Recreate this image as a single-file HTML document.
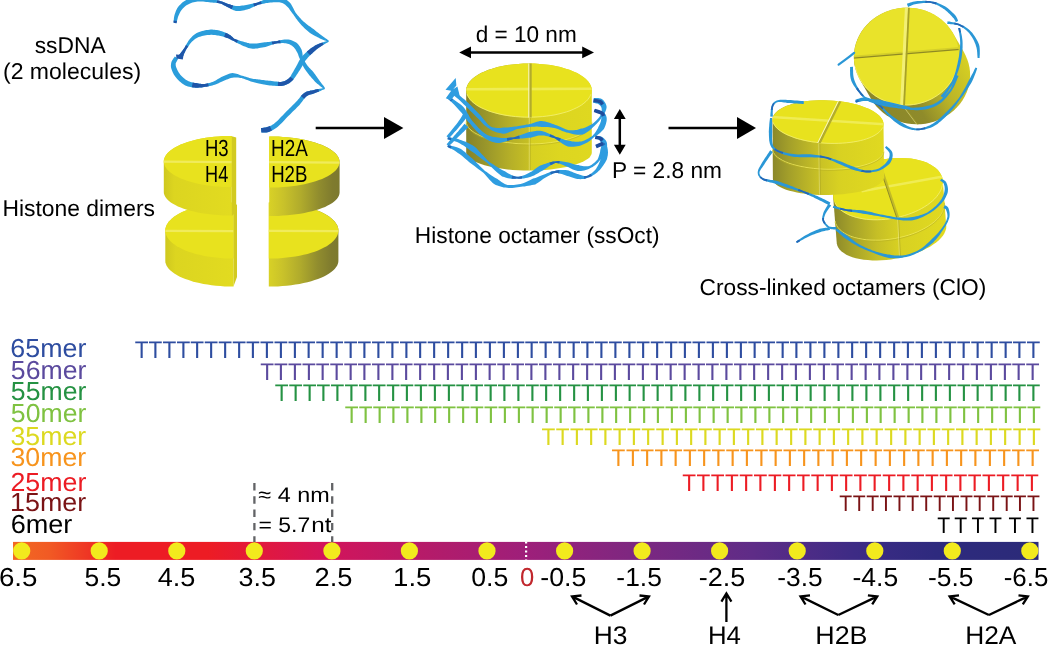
<!DOCTYPE html>
<html><head><meta charset="utf-8"><title>Histone octamer ssDNA figure</title>
<style>
html,body{margin:0;padding:0;background:#fff;}
body{width:1050px;height:650px;overflow:hidden;}
svg{display:block;font-family:'Liberation Sans', Arial, Helvetica, sans-serif;text-rendering:geometricPrecision;}
</style></head><body>
<svg width="1050" height="650" viewBox="0 0 1050 650">
<defs>
<linearGradient id="g1" gradientUnits="userSpaceOnUse" x1="165.3" y1="0.0" x2="233.6" y2="0.0"><stop offset="0" stop-color="#cfc81f"/><stop offset="0.15" stop-color="#dcd520"/><stop offset="1" stop-color="#e2db20"/></linearGradient>
<linearGradient id="g2" gradientUnits="userSpaceOnUse" x1="268.8" y1="0.0" x2="338.4" y2="0.0"><stop offset="0" stop-color="#d8d126"/><stop offset="0.2" stop-color="#c9c22a"/><stop offset="0.45" stop-color="#b0ab2c"/><stop offset="0.7" stop-color="#918d2e"/><stop offset="0.9" stop-color="#7f7b2e"/><stop offset="1" stop-color="#7c792e"/></linearGradient>
<linearGradient id="g3" gradientUnits="userSpaceOnUse" x1="163.8" y1="0.0" x2="231.8" y2="0.0"><stop offset="0" stop-color="#cfc81f"/><stop offset="0.15" stop-color="#dcd520"/><stop offset="1" stop-color="#e2db20"/></linearGradient>
<linearGradient id="g4" gradientUnits="userSpaceOnUse" x1="269.2" y1="0.0" x2="339.6" y2="0.0"><stop offset="0" stop-color="#d8d126"/><stop offset="0.2" stop-color="#c9c22a"/><stop offset="0.45" stop-color="#b0ab2c"/><stop offset="0.7" stop-color="#918d2e"/><stop offset="0.9" stop-color="#7f7b2e"/><stop offset="1" stop-color="#7c792e"/></linearGradient>
<linearGradient id="g5" gradientUnits="userSpaceOnUse" x1="466.0" y1="0.0" x2="592.0" y2="0.0"><stop offset="0" stop-color="#85822a"/><stop offset="0.15" stop-color="#98952a"/><stop offset="0.35" stop-color="#b5af28"/><stop offset="0.495" stop-color="#c6bf24"/><stop offset="0.505" stop-color="#d6cf22"/><stop offset="0.75" stop-color="#ddd620"/><stop offset="1" stop-color="#dfd820"/></linearGradient>
<clipPath id="cp1"><path d="M591.8 90.5 L591.6 92.9 L590.8 95.2 L589.7 97.5 L588.0 99.7 L585.9 101.9 L583.4 104.0 L580.4 106.0 L577.1 107.9 L573.4 109.6 L569.4 111.2 L565.0 112.6 L560.4 113.9 L555.5 115.0 L550.5 115.9 L545.3 116.6 L539.9 117.1 L534.5 117.4 L529.0 117.5 L523.5 117.4 L518.1 117.1 L512.7 116.6 L507.5 115.9 L502.5 115.0 L497.6 113.9 L493.0 112.6 L488.6 111.2 L484.6 109.6 L480.9 107.9 L477.6 106.0 L474.6 104.0 L472.1 101.9 L470.0 99.7 L468.3 97.5 L467.2 95.2 L466.4 92.9 L466.2 90.5 L466.4 88.1 L467.2 85.8 L468.3 83.5 L470.0 81.3 L472.1 79.1 L474.6 77.0 L477.6 75.0 L480.9 73.1 L484.6 71.4 L488.6 69.8 L493.0 68.4 L497.6 67.1 L502.5 66.0 L507.5 65.1 L512.7 64.4 L518.1 63.9 L523.5 63.6 L529.0 63.5 L534.5 63.6 L539.9 63.9 L545.3 64.4 L550.5 65.1 L555.5 66.0 L560.4 67.1 L565.0 68.4 L569.4 69.8 L573.4 71.4 L577.1 73.1 L580.4 75.0 L583.4 77.0 L585.9 79.1 L588.0 81.3 L589.7 83.5 L590.8 85.8 L591.6 88.1 L591.8 90.5 Z"/></clipPath>
<linearGradient id="g6" gradientUnits="userSpaceOnUse" x1="880.0" y1="120.0" x2="975.0" y2="60.0"><stop offset="0" stop-color="#8a862a"/><stop offset="0.35" stop-color="#8f8b2a"/><stop offset="0.6" stop-color="#b8b228"/><stop offset="1" stop-color="#dcd522"/></linearGradient>
<clipPath id="cp2"><path d="M959.0 52.8 L959.1 57.1 L958.8 61.3 L958.1 65.6 L957.0 69.7 L955.5 73.7 L953.6 77.7 L951.4 81.4 L948.9 85.0 L946.0 88.3 L942.8 91.4 L939.4 94.3 L935.7 96.8 L931.8 99.1 L927.6 101.0 L923.4 102.6 L919.0 103.8 L914.5 104.7 L909.9 105.2 L905.3 105.3 L900.7 105.1 L896.2 104.5 L891.8 103.5 L887.4 102.2 L883.2 100.5 L879.2 98.5 L875.4 96.2 L871.8 93.5 L868.5 90.6 L865.5 87.4 L862.8 84.0 L860.4 80.4 L858.4 76.6 L856.7 72.6 L855.4 68.6 L854.5 64.4 L854.0 60.2 L853.9 55.9 L854.2 51.7 L854.9 47.4 L856.0 43.3 L857.5 39.3 L859.4 35.3 L861.6 31.6 L864.1 28.0 L867.0 24.7 L870.2 21.6 L873.6 18.7 L877.3 16.2 L881.2 13.9 L885.4 12.0 L889.6 10.4 L894.0 9.2 L898.5 8.3 L903.1 7.8 L907.7 7.7 L912.3 7.9 L916.8 8.5 L921.2 9.5 L925.6 10.8 L929.8 12.5 L933.8 14.5 L937.6 16.8 L941.2 19.5 L944.5 22.4 L947.5 25.6 L950.2 29.0 L952.6 32.6 L954.6 36.4 L956.3 40.4 L957.6 44.4 L958.5 48.6 L959.0 52.8 Z"/></clipPath>
<linearGradient id="g7" gradientUnits="userSpaceOnUse" x1="833.0" y1="0.0" x2="944.0" y2="0.0"><stop offset="0" stop-color="#8a872a"/><stop offset="0.15" stop-color="#a39f2a"/><stop offset="0.4" stop-color="#c6bf26"/><stop offset="0.6" stop-color="#d8d122"/><stop offset="1" stop-color="#e0d920"/></linearGradient>
<clipPath id="cp3"><path d="M942.7 179.4 L942.9 182.0 L942.7 184.6 L942.1 187.3 L941.1 190.0 L939.7 192.8 L937.9 195.4 L935.8 198.1 L933.2 200.6 L930.3 203.1 L927.1 205.4 L923.6 207.7 L919.8 209.8 L915.8 211.7 L911.6 213.5 L907.2 215.0 L902.6 216.4 L898.0 217.6 L893.2 218.5 L888.4 219.3 L883.6 219.8 L878.9 220.0 L874.2 220.1 L869.6 219.8 L865.2 219.4 L860.9 218.7 L856.9 217.8 L853.0 216.7 L849.5 215.4 L846.2 213.8 L843.3 212.1 L840.7 210.2 L838.4 208.2 L836.6 206.0 L835.1 203.6 L834.0 201.2 L833.3 198.6 L833.1 196.0 L833.3 193.4 L833.9 190.7 L834.9 188.0 L836.3 185.2 L838.1 182.6 L840.2 179.9 L842.8 177.4 L845.7 174.9 L848.9 172.6 L852.4 170.3 L856.2 168.2 L860.2 166.3 L864.4 164.5 L868.8 163.0 L873.4 161.6 L878.0 160.4 L882.8 159.5 L887.6 158.7 L892.4 158.2 L897.1 158.0 L901.8 157.9 L906.4 158.2 L910.8 158.6 L915.1 159.3 L919.1 160.2 L923.0 161.3 L926.5 162.6 L929.8 164.2 L932.7 165.9 L935.3 167.8 L937.6 169.8 L939.4 172.0 L940.9 174.4 L942.0 176.8 L942.7 179.4 Z"/></clipPath>
<linearGradient id="g8" gradientUnits="userSpaceOnUse" x1="772.0" y1="0.0" x2="884.0" y2="0.0"><stop offset="0" stop-color="#8a872a"/><stop offset="0.15" stop-color="#a39f2a"/><stop offset="0.4" stop-color="#c6bf26"/><stop offset="0.6" stop-color="#d8d122"/><stop offset="1" stop-color="#e0d920"/></linearGradient>
<clipPath id="cp4"><path d="M883.5 124.6 L883.2 126.5 L882.5 128.3 L881.4 130.1 L879.8 131.8 L877.9 133.5 L875.6 135.1 L872.9 136.5 L869.9 137.9 L866.6 139.1 L862.9 140.2 L859.0 141.2 L854.9 142.0 L850.5 142.7 L846.0 143.2 L841.4 143.5 L836.6 143.7 L831.8 143.7 L827.0 143.6 L822.1 143.3 L817.4 142.8 L812.6 142.2 L808.0 141.4 L803.6 140.4 L799.3 139.4 L795.3 138.2 L791.5 136.8 L788.0 135.4 L784.8 133.9 L781.9 132.2 L779.4 130.5 L777.2 128.7 L775.5 126.9 L774.1 125.1 L773.1 123.2 L772.6 121.3 L772.5 119.4 L772.8 117.5 L773.5 115.7 L774.6 113.9 L776.2 112.2 L778.1 110.5 L780.4 108.9 L783.1 107.5 L786.1 106.1 L789.4 104.9 L793.1 103.8 L797.0 102.8 L801.1 102.0 L805.5 101.3 L810.0 100.8 L814.6 100.5 L819.4 100.3 L824.2 100.3 L829.0 100.4 L833.9 100.7 L838.6 101.2 L843.4 101.8 L848.0 102.6 L852.4 103.6 L856.7 104.6 L860.7 105.8 L864.5 107.2 L868.0 108.6 L871.2 110.1 L874.1 111.8 L876.6 113.5 L878.8 115.3 L880.5 117.1 L881.9 118.9 L882.9 120.8 L883.4 122.7 L883.5 124.6 Z"/></clipPath>
<linearGradient id="g9" gradientUnits="userSpaceOnUse" x1="13.0" y1="0.0" x2="1038.5" y2="0.0"><stop offset="0" stop-color="#f26a22"/><stop offset="0.035" stop-color="#f15a24"/><stop offset="0.1" stop-color="#ed1c24"/><stop offset="0.19" stop-color="#ed1c24"/><stop offset="0.3" stop-color="#d4145a"/><stop offset="0.42" stop-color="#b01c6c"/><stop offset="0.5" stop-color="#9e1f7a"/><stop offset="0.6" stop-color="#7f2780"/><stop offset="0.72" stop-color="#5f2c87"/><stop offset="0.82" stop-color="#3d2b85"/><stop offset="0.9" stop-color="#2e2a7e"/><stop offset="1" stop-color="#2b2a78"/></linearGradient>
</defs>
<rect width="1050" height="650" fill="#fff"/>
<text x="34.65" y="53.2" font-size="22.90" fill="#000" textLength="71.01" lengthAdjust="spacingAndGlyphs">ssDNA</text>
<text x="3.00" y="79.2" font-size="22.90" fill="#000" textLength="138.21" lengthAdjust="spacingAndGlyphs">(2 molecules)</text>
<text x="2.44" y="215.5" font-size="22.90" fill="#000" textLength="152.51" lengthAdjust="spacingAndGlyphs">Histone dimers</text>
<text x="475.68" y="42.0" font-size="22.90" fill="#000" textLength="101.06" lengthAdjust="spacingAndGlyphs">d = 10 nm</text>
<text x="612.03" y="178.3" font-size="22.90" fill="#000" textLength="109.97" lengthAdjust="spacingAndGlyphs">P = 2.8 nm</text>
<text x="414.87" y="243.2" font-size="22.90" fill="#000" textLength="244.72" lengthAdjust="spacingAndGlyphs">Histone octamer (ssOct)</text>
<text x="699.55" y="295.4" font-size="22.90" fill="#000" textLength="286.66" lengthAdjust="spacingAndGlyphs">Cross-linked octamers (ClO)</text>
<line x1="315.7" y1="127.9" x2="385.0" y2="127.9" stroke="#000" stroke-width="2.5"/>
<path d="M384.0 116.9 L403.4 127.9 L384.0 138.9 Z" fill="#000"/>
<line x1="668.5" y1="128.0" x2="738.0" y2="128.0" stroke="#000" stroke-width="2.5"/>
<path d="M737.0 117.0 L756.0 128.0 L737.0 139.0 Z" fill="#000"/>
<line x1="468" y1="52.4" x2="585" y2="52.4" stroke="#000" stroke-width="2.5"/>
<path d="M459.2 52.4 L471 46.6 L471 58.2 Z M594 52.4 L582.2 46.6 L582.2 58.2 Z" fill="#000"/>
<line x1="619.8" y1="117" x2="619.8" y2="147" stroke="#000" stroke-width="2.5"/>
<path d="M619.8 109 L613.9 119 L625.7 119 Z M619.8 154.8 L613.9 144.8 L625.7 144.8 Z" fill="#000"/>
<path d="M176.4 23.2 L176.6 22.6 L176.8 21.9 L177.0 21.0 L177.2 20.0 L177.5 18.9 L177.7 17.9 L178.0 16.9 L178.4 16.0 L178.8 15.1 L179.2 14.2 L179.6 13.3 L180.0 12.4 L180.5 11.5 L181.0 10.7 L181.6 9.9 L182.2 9.2 L182.8 8.4 L183.6 7.7 L184.4 6.9 L185.2 6.2 L186.1 5.6 L187.0 5.0 L188.0 4.4 L189.0 3.9 L190.0 3.4 L191.2 3.0 L192.4 2.6 L193.7 2.3 L195.0 2.0 L196.3 1.8 L197.6 1.6 L198.9 1.5 L200.2 1.4 L201.6 1.4 L203.1 1.6 L204.7 1.7 L206.2 1.9 L207.8 2.1 L209.3 2.3 L210.8 2.5 L212.1 2.6 L213.4 2.7 L214.6 2.7 L215.7 2.8 L216.8 2.9 L217.9 3.0 L219.0 3.2 L220.1 3.4 L221.2 3.8 L222.3 4.3 L223.4 4.9 L224.5 5.5 L225.6 6.1 L226.8 6.7 L227.9 7.3 L229.0 7.8 L229.9 8.3 L230.8 8.8 L231.7 9.2 L232.6 9.7 L233.6 10.2 L234.7 10.6 L235.9 10.9 L237.2 11.1 L238.6 11.1 L240.0 10.9 L241.5 10.7 L243.0 10.5 L244.4 10.2 L245.8 9.8 L247.2 9.5 L248.5 9.1 L249.8 8.7 L251.0 8.1 L252.1 7.6 L253.2 7.1 L254.3 6.5 L255.4 6.0 L256.5 5.4 L257.6 4.9 L259.0 4.6 L260.3 4.3 L261.7 4.0 L263.1 3.7 L264.6 3.4 L266.0 3.1 L267.4 2.9 L268.8 2.8 L270.3 2.6 L271.9 2.4 L273.5 2.3 L275.1 2.2 L276.6 2.2 L278.0 2.2 L279.3 2.3 L280.3 2.6 L281.3 2.7 L282.1 3.0 L282.9 3.3 L283.7 3.7 L284.5 4.2 L285.3 4.8 L286.0 5.5 L286.8 6.2 L287.6 6.9 L288.4 7.8 L289.2 8.8 L289.9 9.9 L290.7 11.0 L291.6 12.2 L292.5 13.5 L293.4 14.6 L294.3 15.9 L295.1 17.1 L296.0 18.4 L296.9 19.6 L297.9 20.9 L298.8 22.1 L299.8 23.3 L300.9 24.5 L302.0 25.7 L303.1 26.8 L304.2 27.9 L305.3 28.9 L306.5 30.0 L307.7 31.0 L308.8 31.9 L310.0 32.9 L311.2 33.7 L312.5 34.4 L313.8 35.2 L315.1 35.9 L316.3 36.5 L317.6 37.2 L318.8 37.8 L319.9 38.4 L321.1 38.9 L322.3 39.4 L323.5 39.9 L324.7 40.4 L325.8 40.8 L326.8 41.2 L327.6 41.5 L328.2 41.7 L328.8 40.7 L328.2 40.3 L327.6 39.7 L326.7 39.1 L325.8 38.4 L324.8 37.7 L323.7 37.0 L322.7 36.2 L321.7 35.4 L320.7 34.7 L319.6 33.9 L318.5 33.1 L317.4 32.3 L316.3 31.4 L315.2 30.5 L314.1 29.6 L313.0 28.7 L311.9 27.9 L310.7 27.1 L309.5 26.2 L308.3 25.4 L307.1 24.5 L305.9 23.6 L304.8 22.6 L303.7 21.7 L302.7 20.7 L301.6 19.7 L300.6 18.6 L299.6 17.5 L298.6 16.3 L297.6 15.2 L296.7 14.1 L295.8 13.0 L295.1 11.8 L294.4 10.5 L293.8 9.2 L293.2 8.0 L292.5 6.7 L291.8 5.4 L291.0 4.1 L290.2 3.0 L289.2 2.1 L288.3 1.2 L287.4 0.4 L286.4 -0.4 L285.2 -1.1 L284.0 -1.7 L282.7 -2.2 L281.3 -2.6 L279.7 -2.7 L278.0 -2.7 L276.4 -2.6 L274.7 -2.4 L273.0 -2.1 L271.3 -1.8 L269.7 -1.5 L268.2 -1.2 L266.7 -0.8 L265.2 -0.3 L263.7 0.1 L262.3 0.6 L260.9 1.2 L259.5 1.7 L258.2 2.2 L257.0 2.7 L255.6 3.0 L254.4 3.2 L253.2 3.5 L252.0 3.8 L250.9 4.1 L249.8 4.3 L248.6 4.5 L247.5 4.7 L246.2 4.9 L244.9 5.2 L243.5 5.4 L242.1 5.6 L240.8 5.8 L239.6 5.9 L238.4 5.9 L237.4 5.9 L236.5 5.9 L235.7 5.9 L234.9 5.8 L234.1 5.7 L233.2 5.5 L232.3 5.2 L231.3 4.9 L230.2 4.6 L229.2 4.3 L228.1 3.9 L226.9 3.4 L225.7 2.9 L224.5 2.4 L223.2 2.0 L222.0 1.5 L220.7 1.2 L219.5 0.8 L218.4 0.5 L217.2 0.2 L216.1 -0.0 L214.9 -0.2 L213.7 -0.4 L212.5 -0.6 L211.2 -0.9 L209.9 -1.2 L208.4 -1.5 L206.9 -1.9 L205.3 -2.2 L203.7 -2.6 L202.0 -2.8 L200.4 -3.0 L198.7 -3.1 L197.1 -3.0 L195.6 -2.8 L194.1 -2.5 L192.6 -2.2 L191.1 -1.8 L189.7 -1.4 L188.3 -0.8 L187.0 -0.3 L185.8 0.3 L184.6 1.1 L183.4 1.8 L182.3 2.6 L181.3 3.5 L180.4 4.4 L179.5 5.3 L178.6 6.2 L177.9 7.3 L177.2 8.3 L176.6 9.4 L176.1 10.5 L175.7 11.6 L175.3 12.7 L174.9 13.7 L174.6 14.8 L174.3 15.9 L174.1 17.1 L173.9 18.3 L173.8 19.4 L173.7 20.5 L173.6 21.4 L173.6 22.2 L173.6 22.8 Z" fill="#2b9ddb"/>
<path d="M176.4 23.2 L176.6 22.6 L176.8 21.9 L177.0 21.0 L173.7 20.5 L173.6 21.4 L173.6 22.2 L173.6 22.8 Z" fill="#1f55a8"/>
<path d="M216.8 2.9 L217.9 3.0 L219.0 3.2 L220.1 3.4 L221.2 3.8 L222.3 4.3 L223.4 4.9 L224.5 5.5 L225.6 6.1 L226.8 6.7 L227.9 7.3 L229.0 7.8 L229.9 8.3 L230.8 8.8 L231.7 9.2 L233.2 5.5 L232.3 5.2 L231.3 4.9 L230.2 4.6 L229.2 4.3 L228.1 3.9 L226.9 3.4 L225.7 2.9 L224.5 2.4 L223.2 2.0 L222.0 1.5 L220.7 1.2 L219.5 0.8 L218.4 0.5 L217.2 0.2 Z" fill="#1f55a8"/>
<path d="M254.3 6.5 L255.4 6.0 L256.5 5.4 L257.6 4.9 L259.0 4.6 L260.3 4.3 L261.7 4.0 L260.9 1.2 L259.5 1.7 L258.2 2.2 L257.0 2.7 L255.6 3.0 L254.4 3.2 L253.2 3.5 Z" fill="#1f55a8"/>
<path d="M328.3 40.7 L327.5 40.9 L326.5 41.2 L325.2 41.5 L323.9 41.9 L322.5 42.4 L321.0 42.9 L319.6 43.4 L318.4 43.9 L317.3 44.5 L316.2 45.0 L315.1 45.6 L314.1 46.2 L313.1 46.9 L312.1 47.6 L311.0 48.3 L310.0 49.0 L309.0 49.9 L307.9 50.8 L306.8 51.8 L305.7 52.8 L304.7 53.8 L303.6 54.8 L302.7 55.8 L301.8 56.9 L301.0 58.0 L300.2 59.0 L299.6 60.1 L299.0 61.1 L298.5 62.1 L298.0 63.0 L297.5 64.0 L297.0 64.9 L296.4 65.9 L295.9 66.9 L295.3 67.9 L294.8 68.8 L294.3 69.8 L293.7 70.8 L293.2 71.7 L292.7 72.5 L292.1 73.4 L291.6 74.3 L291.2 75.2 L290.7 75.9 L290.3 76.7 L289.8 77.3 L289.3 77.9 L288.7 78.5 L288.0 79.0 L287.3 79.6 L286.5 80.1 L285.7 80.6 L284.8 81.0 L284.0 81.3 L283.0 81.6 L282.0 81.8 L280.9 81.9 L279.5 81.9 L278.1 81.8 L276.5 81.6 L274.9 81.5 L273.3 81.2 L271.7 81.0 L270.2 80.8 L268.8 80.7 L267.4 80.6 L266.0 80.4 L264.7 80.2 L263.3 80.0 L262.0 79.9 L260.7 79.7 L259.5 79.5 L258.4 79.4 L257.3 79.3 L256.3 79.2 L255.4 79.1 L254.5 79.0 L253.6 78.9 L252.6 78.8 L251.6 78.6 L250.5 78.3 L249.4 78.0 L248.3 77.6 L247.1 77.2 L245.9 76.8 L244.6 76.4 L243.4 76.1 L242.2 75.8 L241.1 75.4 L239.9 74.9 L238.8 74.5 L237.6 74.1 L236.4 73.7 L235.2 73.4 L233.9 73.2 L232.5 73.1 L231.1 73.3 L229.8 73.6 L228.5 74.0 L227.3 74.4 L226.1 74.9 L224.9 75.4 L223.7 75.9 L222.6 76.4 L221.4 77.0 L220.2 77.7 L219.0 78.4 L217.9 79.1 L216.8 79.8 L215.7 80.4 L214.6 81.0 L213.6 81.5 L212.5 81.9 L211.4 82.3 L210.3 82.7 L209.2 83.0 L208.1 83.3 L207.0 83.6 L205.9 83.8 L204.8 84.0 L203.7 84.0 L202.6 84.0 L201.5 83.9 L200.4 83.8 L199.3 83.7 L198.2 83.5 L197.2 83.3 L196.1 83.1 L194.9 82.9 L193.8 82.7 L192.7 82.5 L191.6 82.2 L190.5 81.9 L189.5 81.6 L188.6 81.2 L187.7 80.8 L186.8 80.3 L185.8 79.7 L184.9 79.0 L184.0 78.3 L183.1 77.6 L182.3 76.8 L181.5 76.0 L180.8 75.2 L180.1 74.4 L179.5 73.5 L178.9 72.7 L178.3 71.7 L177.8 70.8 L177.3 69.9 L177.0 69.1 L176.6 68.3 L176.3 67.6 L176.1 66.9 L175.9 66.3 L175.8 65.7 L175.7 65.2 L175.7 64.6 L175.7 64.1 L175.7 63.6 L175.8 63.1 L176.1 62.6 L176.4 61.9 L176.8 61.2 L177.2 60.5 L177.6 59.8 L177.9 59.2 L178.2 58.8 L174.8 56.6 L174.5 57.0 L174.2 57.5 L173.7 58.1 L173.1 58.9 L172.6 59.7 L172.1 60.6 L171.6 61.6 L171.3 62.6 L171.1 63.5 L171.0 64.4 L170.9 65.4 L170.9 66.3 L171.0 67.2 L171.2 68.2 L171.5 69.1 L171.8 70.1 L172.2 71.1 L172.7 72.2 L173.2 73.3 L173.8 74.4 L174.5 75.5 L175.2 76.5 L176.0 77.6 L176.8 78.6 L177.7 79.6 L178.7 80.5 L179.7 81.4 L180.7 82.3 L181.8 83.2 L182.9 84.0 L184.1 84.8 L185.3 85.4 L186.6 86.0 L187.9 86.4 L189.2 86.8 L190.5 87.0 L191.8 87.2 L193.1 87.4 L194.3 87.6 L195.5 87.7 L196.8 87.7 L198.0 87.7 L199.2 87.6 L200.4 87.6 L201.6 87.4 L202.8 87.3 L204.0 87.1 L205.2 86.8 L206.4 86.7 L207.6 86.5 L208.8 86.3 L210.0 86.1 L211.2 85.8 L212.4 85.5 L213.6 85.1 L214.8 84.7 L216.1 84.2 L217.3 83.7 L218.6 83.2 L219.8 82.6 L221.0 82.0 L222.2 81.5 L223.3 81.0 L224.4 80.6 L225.6 80.1 L226.7 79.6 L227.8 79.2 L228.9 78.7 L230.0 78.3 L231.0 78.0 L232.0 77.8 L232.9 77.7 L233.8 77.5 L234.8 77.4 L235.9 77.4 L237.0 77.5 L238.1 77.6 L239.2 77.7 L240.4 77.9 L241.6 78.0 L242.7 78.4 L243.9 78.8 L245.0 79.2 L246.2 79.7 L247.3 80.1 L248.5 80.6 L249.7 81.0 L250.8 81.4 L251.9 81.7 L252.9 82.0 L253.9 82.3 L254.8 82.5 L255.8 82.8 L256.7 83.0 L257.8 83.2 L258.9 83.5 L260.1 83.7 L261.3 84.0 L262.6 84.2 L264.0 84.5 L265.4 84.7 L266.8 85.0 L268.3 85.2 L269.8 85.4 L271.2 85.5 L272.8 85.7 L274.5 85.8 L276.2 85.9 L277.8 86.0 L279.5 86.0 L281.1 86.0 L282.6 85.8 L284.0 85.5 L285.3 85.1 L286.5 84.6 L287.6 84.1 L288.6 83.5 L289.6 82.9 L290.4 82.2 L291.3 81.5 L292.2 80.8 L292.9 80.0 L293.6 79.2 L294.3 78.3 L294.9 77.5 L295.4 76.7 L296.0 75.9 L296.5 75.1 L297.1 74.2 L297.8 73.2 L298.4 72.3 L299.0 71.3 L299.6 70.4 L300.2 69.4 L300.8 68.5 L301.4 67.5 L302.0 66.5 L302.6 65.5 L303.1 64.5 L303.6 63.6 L304.1 62.7 L304.6 61.8 L305.2 61.0 L305.8 60.1 L306.6 59.2 L307.4 58.2 L308.2 57.2 L309.2 56.2 L310.1 55.3 L311.1 54.3 L312.1 53.4 L313.0 52.6 L313.9 51.7 L314.7 51.0 L315.6 50.2 L316.4 49.5 L317.3 48.8 L318.1 48.2 L319.1 47.5 L320.0 46.9 L321.1 46.2 L322.2 45.4 L323.5 44.7 L324.8 44.0 L326.0 43.3 L327.1 42.7 L328.0 42.2 L328.7 41.7 Z" fill="#2b9ddb"/>
<path d="M322.5 42.4 L321.0 42.9 L319.6 43.4 L318.4 43.9 L317.3 44.5 L316.2 45.0 L315.1 45.6 L314.1 46.2 L313.1 46.9 L312.1 47.6 L311.0 48.3 L310.0 49.0 L309.0 49.9 L307.9 50.8 L306.8 51.8 L310.1 55.3 L311.1 54.3 L312.1 53.4 L313.0 52.6 L313.9 51.7 L314.7 51.0 L315.6 50.2 L316.4 49.5 L317.3 48.8 L318.1 48.2 L319.1 47.5 L320.0 46.9 L321.1 46.2 L322.2 45.4 L323.5 44.7 Z" fill="#1f55a8"/>
<path d="M290.3 76.7 L289.8 77.3 L289.3 77.9 L288.7 78.5 L288.0 79.0 L287.3 79.6 L286.5 80.1 L285.7 80.6 L284.8 81.0 L284.0 81.3 L283.0 81.6 L282.0 81.8 L280.9 81.9 L279.5 81.9 L278.1 81.8 L277.8 86.0 L279.5 86.0 L281.1 86.0 L282.6 85.8 L284.0 85.5 L285.3 85.1 L286.5 84.6 L287.6 84.1 L288.6 83.5 L289.6 82.9 L290.4 82.2 L291.3 81.5 L292.2 80.8 L292.9 80.0 L293.6 79.2 Z" fill="#1f55a8"/>
<path d="M208.1 83.3 L207.0 83.6 L205.9 83.8 L204.8 84.0 L203.7 84.0 L202.6 84.0 L201.5 83.9 L200.4 83.8 L199.3 83.7 L198.2 83.5 L197.2 83.3 L196.1 83.1 L194.9 82.9 L193.8 82.7 L192.7 82.5 L191.8 87.2 L193.1 87.4 L194.3 87.6 L195.5 87.7 L196.8 87.7 L198.0 87.7 L199.2 87.6 L200.4 87.6 L201.6 87.4 L202.8 87.3 L204.0 87.1 L205.2 86.8 L206.4 86.7 L207.6 86.5 L208.8 86.3 Z" fill="#1f55a8"/>
<path d="M182.4 58.1 L182.6 57.4 L182.9 56.6 L183.3 55.6 L183.8 54.5 L184.3 53.3 L184.9 52.2 L185.4 51.0 L186.0 49.8 L186.7 48.7 L187.5 47.6 L188.3 46.4 L189.1 45.2 L189.9 44.1 L190.8 43.0 L191.6 42.0 L192.4 41.2 L193.3 40.4 L194.2 39.7 L195.0 39.1 L195.9 38.5 L196.8 38.0 L197.7 37.5 L198.7 37.1 L199.7 36.7 L200.8 36.4 L202.0 36.0 L203.3 35.7 L204.6 35.5 L205.9 35.3 L207.3 35.1 L208.6 35.0 L209.8 34.9 L210.9 34.8 L212.0 34.8 L213.0 34.9 L214.0 34.9 L215.1 35.1 L216.1 35.2 L217.2 35.4 L218.2 35.6 L219.4 35.8 L220.5 36.1 L221.7 36.3 L222.9 36.6 L224.1 37.0 L225.2 37.3 L226.3 37.7 L227.3 38.0 L228.1 38.3 L228.8 38.6 L229.5 39.0 L230.2 39.3 L231.0 39.7 L231.8 40.2 L232.7 40.6 L233.7 41.0 L234.7 41.6 L235.7 42.2 L236.9 42.8 L238.1 43.4 L239.3 44.0 L240.5 44.6 L241.7 45.2 L242.8 45.7 L243.9 46.2 L245.0 46.6 L246.1 47.1 L247.2 47.5 L248.4 48.0 L249.7 48.3 L251.1 48.6 L252.6 48.8 L254.2 48.8 L255.8 48.6 L257.5 48.4 L259.1 48.1 L260.7 47.8 L262.3 47.5 L263.9 47.2 L265.4 46.9 L266.9 46.5 L268.3 46.0 L269.7 45.5 L271.1 45.1 L272.4 44.6 L273.7 44.2 L275.1 43.8 L276.4 43.4 L277.8 43.3 L279.2 43.3 L280.6 43.2 L281.9 43.1 L283.2 43.1 L284.5 43.2 L285.6 43.3 L286.7 43.5 L287.6 43.7 L288.6 44.0 L289.4 44.3 L290.3 44.7 L291.0 45.2 L291.7 45.6 L292.4 46.1 L293.0 46.7 L293.6 47.1 L294.1 47.7 L294.6 48.3 L295.1 48.9 L295.6 49.6 L296.0 50.4 L296.5 51.1 L296.8 51.9 L297.3 52.6 L297.6 53.3 L298.0 54.1 L298.3 55.0 L298.6 56.0 L299.0 57.0 L299.4 58.1 L299.9 59.1 L300.3 60.1 L300.7 61.1 L301.1 62.2 L301.6 63.2 L302.0 64.2 L302.6 65.2 L303.1 66.3 L303.7 67.3 L304.4 68.4 L305.1 69.4 L305.8 70.5 L306.5 71.5 L307.3 72.5 L308.0 73.5 L308.8 74.5 L309.5 75.4 L310.3 76.3 L311.1 77.2 L311.9 78.2 L312.7 79.1 L313.6 80.0 L314.4 81.0 L315.3 81.9 L316.2 82.8 L317.2 83.7 L318.4 84.6 L319.5 85.5 L320.6 86.4 L321.7 87.2 L322.7 87.9 L323.5 88.5 L324.2 88.9 L325.0 88.1 L324.6 87.4 L324.0 86.6 L323.3 85.6 L322.4 84.6 L321.6 83.5 L320.7 82.3 L319.9 81.2 L319.2 80.2 L318.5 79.2 L317.8 78.3 L317.1 77.3 L316.4 76.3 L315.7 75.3 L315.0 74.2 L314.2 73.2 L313.5 72.2 L312.7 71.2 L311.8 70.3 L310.9 69.4 L310.1 68.5 L309.2 67.7 L308.5 66.8 L307.7 65.9 L307.1 65.1 L306.5 64.2 L305.9 63.3 L305.4 62.4 L304.9 61.5 L304.4 60.6 L303.9 59.7 L303.5 58.8 L303.1 57.9 L302.9 57.0 L302.7 56.0 L302.6 55.1 L302.5 54.1 L302.4 53.0 L302.2 51.9 L301.9 50.8 L301.6 49.7 L301.1 48.7 L300.5 47.8 L300.0 46.8 L299.4 45.9 L298.7 45.0 L297.9 44.1 L297.1 43.3 L296.2 42.5 L295.2 41.9 L294.2 41.4 L293.1 40.9 L292.0 40.5 L290.9 40.1 L289.7 39.8 L288.4 39.6 L287.1 39.5 L285.8 39.5 L284.4 39.6 L283.0 39.8 L281.6 40.0 L280.2 40.3 L278.8 40.6 L277.4 40.9 L276.0 41.2 L274.6 41.2 L273.2 41.4 L271.7 41.5 L270.3 41.7 L268.9 41.9 L267.5 42.1 L266.0 42.2 L264.6 42.3 L263.1 42.6 L261.5 42.8 L259.9 43.0 L258.3 43.3 L256.8 43.5 L255.4 43.6 L254.0 43.6 L252.8 43.6 L251.7 43.6 L250.6 43.5 L249.6 43.4 L248.6 43.1 L247.5 42.9 L246.5 42.6 L245.3 42.2 L244.2 41.9 L243.0 41.6 L241.7 41.3 L240.5 40.9 L239.3 40.5 L238.0 40.1 L236.9 39.7 L235.7 39.3 L234.7 39.0 L233.9 38.4 L233.3 37.9 L232.7 37.3 L232.1 36.8 L231.4 36.2 L230.7 35.6 L229.9 35.0 L228.9 34.4 L227.9 33.8 L226.8 33.3 L225.6 32.8 L224.4 32.3 L223.1 31.8 L221.9 31.3 L220.6 30.9 L219.4 30.6 L218.1 30.3 L217.0 30.1 L215.8 29.9 L214.6 29.8 L213.3 29.7 L212.1 29.6 L210.7 29.6 L209.4 29.7 L208.0 29.9 L206.6 30.1 L205.1 30.3 L203.6 30.7 L202.1 31.0 L200.7 31.5 L199.2 31.9 L197.9 32.5 L196.7 33.1 L195.6 33.8 L194.5 34.5 L193.5 35.2 L192.6 36.1 L191.7 36.9 L190.8 37.9 L190.0 38.8 L189.1 39.9 L188.3 41.1 L187.5 42.4 L186.7 43.7 L186.0 45.0 L185.3 46.2 L184.7 47.5 L184.0 48.6 L183.2 49.6 L182.4 50.7 L181.6 51.7 L180.8 52.8 L180.1 53.7 L179.4 54.5 L178.9 55.2 L178.4 55.7 Z" fill="#2b9ddb"/>
<path d="M182.4 58.1 L182.6 57.4 L182.9 56.6 L183.3 55.6 L183.8 54.5 L184.3 53.3 L184.9 52.2 L185.4 51.0 L186.0 49.8 L186.7 48.7 L187.5 47.6 L188.3 46.4 L186.0 45.0 L185.3 46.2 L184.7 47.5 L184.0 48.6 L183.2 49.6 L182.4 50.7 L181.6 51.7 L180.8 52.8 L180.1 53.7 L179.4 54.5 L178.9 55.2 L178.4 55.7 Z" fill="#1f55a8"/>
<path d="M224.1 37.0 L225.2 37.3 L226.3 37.7 L227.3 38.0 L228.1 38.3 L228.8 38.6 L229.5 39.0 L230.2 39.3 L231.0 39.7 L231.8 40.2 L232.7 40.6 L233.7 41.0 L234.7 41.6 L235.7 42.2 L236.9 42.8 L238.0 40.1 L236.9 39.7 L235.7 39.3 L234.7 39.0 L233.9 38.4 L233.3 37.9 L232.7 37.3 L232.1 36.8 L231.4 36.2 L230.7 35.6 L229.9 35.0 L228.9 34.4 L227.9 33.8 L226.8 33.3 L225.6 32.8 Z" fill="#1f55a8"/>
<path d="M272.4 44.6 L273.7 44.2 L275.1 43.8 L276.4 43.4 L277.8 43.3 L279.2 43.3 L280.6 43.2 L280.2 40.3 L278.8 40.6 L277.4 40.9 L276.0 41.2 L274.6 41.2 L273.2 41.4 L271.7 41.5 Z" fill="#1f55a8"/>
<path d="M324.4 88.0 L323.6 88.1 L322.5 88.2 L321.3 88.5 L319.9 88.7 L318.4 89.0 L316.9 89.3 L315.4 89.6 L314.1 89.9 L313.0 90.2 L311.8 90.4 L310.6 90.6 L309.4 90.9 L308.1 91.2 L306.8 91.6 L305.5 92.2 L304.2 93.0 L303.0 93.9 L301.9 95.0 L300.9 96.1 L300.0 97.2 L299.1 98.4 L298.1 99.6 L297.2 100.7 L296.1 101.8 L295.0 103.0 L293.7 104.3 L292.4 105.6 L291.0 107.0 L289.6 108.3 L288.2 109.7 L286.8 111.1 L285.4 112.5 L284.0 113.9 L282.6 115.4 L281.2 116.8 L279.8 118.3 L278.5 119.7 L277.2 121.0 L276.0 122.1 L274.8 123.1 L273.8 123.9 L272.7 124.6 L271.7 125.2 L270.8 125.7 L269.8 126.1 L268.9 126.4 L268.0 126.8 L267.2 127.0 L266.4 127.3 L265.6 127.5 L264.8 127.6 L263.9 127.7 L263.1 127.8 L262.3 127.9 L261.6 127.9 L261.0 128.0 L261.4 132.6 L261.8 132.6 L262.4 132.6 L263.3 132.6 L264.2 132.6 L265.3 132.6 L266.4 132.5 L267.6 132.3 L268.8 132.0 L269.9 131.5 L270.9 131.1 L272.0 130.6 L273.0 130.0 L274.2 129.3 L275.3 128.6 L276.5 127.7 L277.8 126.7 L279.1 125.6 L280.4 124.3 L281.8 122.9 L283.2 121.5 L284.6 120.0 L285.9 118.5 L287.3 117.1 L288.6 115.7 L290.0 114.4 L291.4 113.0 L292.8 111.6 L294.2 110.3 L295.6 108.9 L296.9 107.6 L298.2 106.3 L299.5 105.0 L300.6 103.6 L301.6 102.3 L302.6 101.0 L303.4 99.8 L304.2 98.7 L305.0 97.8 L305.8 96.9 L306.6 96.2 L307.4 95.7 L308.3 95.2 L309.3 94.8 L310.3 94.5 L311.4 94.2 L312.6 93.9 L313.8 93.5 L315.1 93.1 L316.3 92.6 L317.7 92.0 L319.1 91.5 L320.5 90.9 L321.8 90.3 L323.0 89.8 L324.0 89.4 L324.8 89.0 Z" fill="#2b9ddb"/>
<path d="M318.4 89.0 L316.9 89.3 L315.4 89.6 L314.1 89.9 L313.0 90.2 L311.8 90.4 L310.6 90.6 L309.4 90.9 L308.1 91.2 L306.8 91.6 L305.5 92.2 L304.2 93.0 L303.0 93.9 L301.9 95.0 L300.9 96.1 L304.2 98.7 L305.0 97.8 L305.8 96.9 L306.6 96.2 L307.4 95.7 L308.3 95.2 L309.3 94.8 L310.3 94.5 L311.4 94.2 L312.6 93.9 L313.8 93.5 L315.1 93.1 L316.3 92.6 L317.7 92.0 L319.1 91.5 Z" fill="#1f55a8"/>
<path d="M269.8 126.1 L268.9 126.4 L268.0 126.8 L267.2 127.0 L266.4 127.3 L265.6 127.5 L264.8 127.6 L263.9 127.7 L263.1 127.8 L262.3 127.9 L261.6 127.9 L261.0 128.0 L261.4 132.6 L261.8 132.6 L262.4 132.6 L263.3 132.6 L264.2 132.6 L265.3 132.6 L266.4 132.5 L267.6 132.3 L268.8 132.0 L269.9 131.5 L270.9 131.1 L272.0 130.6 Z" fill="#1f55a8"/>
<path d="M176 54.5 L183.5 55 L182.8 59.5 L176.5 58.5 Z" fill="#1f55a8"/>
<path d="M165.3 230.6 L165.4 228.8 L165.9 226.9 L166.6 225.1 L167.6 223.4 L168.9 221.6 L170.5 219.9 L172.3 218.2 L174.4 216.6 L176.8 215.0 L179.4 213.6 L182.2 212.1 L185.3 210.8 L188.6 209.5 L192.0 208.4 L195.7 207.3 L199.4 206.4 L203.4 205.5 L207.5 204.7 L211.6 204.1 L215.9 203.6 L220.3 203.1 L224.7 202.8 L229.1 202.7 L233.6 202.6 L233.6 286.6 L229.1 286.5 L224.7 286.4 L220.3 286.1 L215.9 285.7 L211.6 285.2 L207.5 284.6 L203.4 283.9 L199.4 283.1 L195.7 282.2 L192.0 281.2 L188.6 280.1 L185.3 279.0 L182.2 277.7 L179.4 276.4 L176.8 275.0 L174.4 273.6 L172.3 272.1 L170.5 270.6 L168.9 269.0 L167.6 267.3 L166.6 265.7 L165.9 264.0 L165.4 262.3 L165.3 260.6 Z" fill="url(#g1)"/>
<path d="M233.6 258.6 L229.1 258.5 L224.7 258.4 L220.3 258.1 L215.9 257.6 L211.6 257.1 L207.5 256.5 L203.4 255.7 L199.5 254.8 L195.7 253.9 L192.0 252.8 L188.6 251.7 L185.3 250.4 L182.2 249.1 L179.4 247.6 L176.8 246.2 L174.5 244.6 L172.3 243.0 L170.5 241.3 L168.9 239.6 L167.6 237.8 L166.6 236.1 L165.9 234.3 L165.4 232.4 L165.3 230.6 L165.4 228.8 L165.9 226.9 L166.6 225.1 L167.6 223.4 L168.9 221.6 L170.5 219.9 L172.3 218.2 L174.5 216.6 L176.8 215.0 L179.4 213.6 L182.2 212.1 L185.3 210.8 L188.6 209.5 L192.0 208.4 L195.7 207.3 L199.4 206.4 L203.4 205.5 L207.5 204.7 L211.6 204.1 L215.9 203.6 L220.3 203.1 L224.7 202.8 L229.1 202.7 L233.6 202.6 Z" fill="#e8e21e"/>
<line x1="165.3" y1="230.8" x2="233.6" y2="231.2" stroke="#f1ed62" stroke-width="2.3" opacity="0.9"/>
<path d="M268.8 202.6 L273.4 202.7 L277.9 202.8 L282.4 203.1 L286.8 203.6 L291.2 204.1 L295.4 204.7 L299.6 205.5 L303.6 206.4 L307.5 207.3 L311.2 208.4 L314.7 209.5 L318.0 210.8 L321.1 212.1 L324.0 213.6 L326.7 215.0 L329.1 216.6 L331.2 218.2 L333.1 219.9 L334.7 221.6 L336.0 223.4 L337.1 225.1 L337.8 226.9 L338.3 228.8 L338.4 230.6 L338.4 260.6 L338.3 262.3 L337.8 264.0 L337.1 265.7 L336.0 267.3 L334.7 269.0 L333.1 270.6 L331.2 272.1 L329.1 273.6 L326.7 275.0 L324.0 276.4 L321.1 277.7 L318.0 279.0 L314.7 280.1 L311.2 281.2 L307.5 282.2 L303.6 283.1 L299.6 283.9 L295.4 284.6 L291.2 285.2 L286.8 285.7 L282.4 286.1 L277.9 286.4 L273.4 286.5 L268.8 286.6 Z" fill="url(#g2)"/>
<path d="M268.8 202.6 L273.4 202.7 L277.9 202.8 L282.4 203.1 L286.8 203.6 L291.2 204.1 L295.4 204.7 L299.6 205.5 L303.6 206.4 L307.5 207.3 L311.2 208.4 L314.7 209.5 L318.0 210.8 L321.1 212.1 L324.0 213.6 L326.7 215.0 L329.1 216.6 L331.2 218.2 L333.1 219.9 L334.7 221.6 L336.0 223.4 L337.1 225.1 L337.8 226.9 L338.3 228.8 L338.4 230.6 L338.3 232.4 L337.8 234.3 L337.1 236.1 L336.0 237.8 L334.7 239.6 L333.1 241.3 L331.2 243.0 L329.1 244.6 L326.7 246.2 L324.0 247.6 L321.1 249.1 L318.0 250.4 L314.7 251.7 L311.2 252.8 L307.5 253.9 L303.6 254.8 L299.6 255.7 L295.4 256.5 L291.2 257.1 L286.8 257.6 L282.4 258.1 L277.9 258.4 L273.4 258.5 L268.8 258.6 Z" fill="#e8e21e"/>
<line x1="268.8" y1="230.8" x2="338.4" y2="231.2" stroke="#f1ed62" stroke-width="2.3" opacity="0.9"/>
<path d="M233.6 205 L237 204.5 L237 277 L233.6 286 Z" fill="#d2ca20"/>
<path d="M163.8 161.5 L163.9 159.8 L164.4 158.2 L165.1 156.5 L166.1 154.9 L167.4 153.3 L169.0 151.7 L170.8 150.2 L172.9 148.7 L175.3 147.3 L177.9 145.9 L180.7 144.6 L183.7 143.4 L187.0 142.3 L190.4 141.2 L194.0 140.2 L197.8 139.3 L201.7 138.5 L205.8 137.8 L209.9 137.3 L214.2 136.8 L218.5 136.4 L222.9 136.1 L227.4 136.0 L231.8 135.9 L231.8 215.6 L227.4 215.5 L222.9 215.4 L218.5 215.1 L214.2 214.8 L209.9 214.3 L205.8 213.8 L201.7 213.2 L197.8 212.4 L194.0 211.6 L190.4 210.7 L187.0 209.7 L183.7 208.7 L180.7 207.6 L177.9 206.4 L175.3 205.1 L172.9 203.8 L170.8 202.4 L169.0 201.0 L167.4 199.6 L166.1 198.1 L165.1 196.6 L164.4 195.1 L163.9 193.5 L163.8 192.0 Z" fill="url(#g3)"/>
<path d="M231.8 187.1 L227.4 187.0 L222.9 186.9 L218.5 186.6 L214.2 186.2 L209.9 185.7 L205.8 185.2 L201.7 184.5 L197.8 183.7 L194.0 182.8 L190.4 181.8 L187.0 180.7 L183.7 179.6 L180.7 178.4 L177.9 177.1 L175.3 175.7 L172.9 174.3 L170.8 172.8 L169.0 171.3 L167.4 169.7 L166.1 168.1 L165.1 166.5 L164.4 164.8 L163.9 163.2 L163.8 161.5 L163.9 159.8 L164.4 158.2 L165.1 156.5 L166.1 154.9 L167.4 153.3 L169.0 151.7 L170.8 150.2 L172.9 148.7 L175.3 147.3 L177.9 145.9 L180.7 144.6 L183.7 143.4 L187.0 142.3 L190.4 141.2 L194.0 140.2 L197.8 139.3 L201.7 138.5 L205.8 137.8 L209.9 137.3 L214.2 136.8 L218.5 136.4 L222.9 136.1 L227.4 136.0 L231.8 135.9 Z" fill="#e8e21e"/>
<line x1="163.8" y1="161.7" x2="231.8" y2="162.1" stroke="#f1ed62" stroke-width="2.3" opacity="0.9"/>
<path d="M269.2 136.4 L273.8 136.5 L278.4 136.6 L282.9 136.9 L287.4 137.3 L291.8 137.8 L296.1 138.3 L300.3 139.0 L304.4 139.8 L308.3 140.7 L312.1 141.7 L315.6 142.8 L319.0 143.9 L322.1 145.1 L325.1 146.4 L327.7 147.8 L330.2 149.2 L332.3 150.7 L334.2 152.2 L335.9 153.8 L337.2 155.4 L338.2 157.0 L339.0 158.7 L339.4 160.3 L339.6 162.0 L339.6 192.5 L339.4 194.0 L339.0 195.6 L338.2 197.1 L337.2 198.6 L335.9 200.1 L334.2 201.5 L332.3 202.9 L330.2 204.3 L327.7 205.6 L325.1 206.9 L322.1 208.1 L319.0 209.2 L315.6 210.2 L312.1 211.2 L308.3 212.1 L304.4 212.9 L300.3 213.7 L296.1 214.3 L291.8 214.8 L287.4 215.3 L282.9 215.6 L278.4 215.9 L273.8 216.0 L269.2 216.1 Z" fill="url(#g4)"/>
<path d="M269.2 136.4 L273.8 136.5 L278.4 136.6 L282.9 136.9 L287.4 137.3 L291.8 137.8 L296.1 138.3 L300.3 139.0 L304.4 139.8 L308.3 140.7 L312.1 141.7 L315.6 142.8 L319.0 143.9 L322.1 145.1 L325.1 146.4 L327.7 147.8 L330.2 149.2 L332.3 150.7 L334.2 152.2 L335.9 153.8 L337.2 155.4 L338.2 157.0 L339.0 158.7 L339.4 160.3 L339.6 162.0 L339.4 163.7 L339.0 165.3 L338.2 167.0 L337.2 168.6 L335.9 170.2 L334.2 171.8 L332.3 173.3 L330.2 174.8 L327.7 176.2 L325.1 177.6 L322.1 178.9 L319.0 180.1 L315.6 181.2 L312.1 182.3 L308.3 183.3 L304.4 184.2 L300.3 185.0 L296.1 185.7 L291.8 186.2 L287.4 186.7 L282.9 187.1 L278.4 187.4 L273.8 187.5 L269.2 187.6 Z" fill="#e8e21e"/>
<line x1="269.2" y1="162.2" x2="339.6" y2="162.6" stroke="#f1ed62" stroke-width="2.3" opacity="0.9"/>
<path d="M231.8 136.2 L236.2 137.5 L236.2 212 L231.8 216 Z" fill="#d2ca20"/>
<text x="204.95" y="155.9" font-size="23.31" fill="#000" textLength="23.68" lengthAdjust="spacingAndGlyphs">H3</text>
<text x="205.05" y="181.6" font-size="23.31" fill="#000" textLength="23.18" lengthAdjust="spacingAndGlyphs">H4</text>
<text x="271.05" y="156.4" font-size="23.31" fill="#000" textLength="36.79" lengthAdjust="spacingAndGlyphs">H2A</text>
<text x="271.16" y="181.6" font-size="23.31" fill="#000" textLength="36.25" lengthAdjust="spacingAndGlyphs">H2B</text>
<path d="M466.2 90.5 L466.4 88.1 L467.2 85.8 L468.3 83.5 L470.0 81.3 L472.1 79.1 L474.6 77.0 L477.6 75.0 L480.9 73.1 L484.6 71.4 L488.6 69.8 L493.0 68.4 L497.6 67.1 L502.5 66.0 L507.5 65.1 L512.7 64.4 L518.1 63.9 L523.5 63.6 L529.0 63.5 L534.5 63.6 L539.9 63.9 L545.3 64.4 L550.5 65.1 L555.5 66.0 L560.4 67.1 L565.0 68.4 L569.4 69.8 L573.4 71.4 L577.1 73.1 L580.4 75.0 L583.4 77.0 L585.9 79.1 L588.0 81.3 L589.7 83.5 L590.8 85.8 L591.6 88.1 L591.8 90.5 L591.8 152.5 L591.6 154.1 L590.8 155.6 L589.7 157.2 L588.0 158.7 L585.9 160.1 L583.4 161.5 L580.4 162.8 L577.1 164.1 L573.4 165.2 L569.4 166.3 L565.0 167.2 L560.4 168.1 L555.5 168.8 L550.5 169.4 L545.3 169.9 L539.9 170.2 L534.5 170.4 L529.0 170.5 L523.5 170.4 L518.1 170.2 L512.7 169.9 L507.5 169.4 L502.5 168.8 L497.6 168.1 L493.0 167.2 L488.6 166.3 L484.6 165.2 L480.9 164.1 L477.6 162.8 L474.6 161.5 L472.1 160.1 L470.0 158.7 L468.3 157.2 L467.2 155.6 L466.4 154.1 L466.2 152.5 Z" fill="url(#g5)"/>
<path d="M591.8 121.5 L591.6 123.5 L590.8 125.4 L589.7 127.3 L588.0 129.2 L585.9 131.0 L583.4 132.8 L580.4 134.4 L577.1 136.0 L573.4 137.4 L569.4 138.7 L565.0 139.9 L560.4 141.0 L555.5 141.9 L550.5 142.6 L545.3 143.2 L539.9 143.7 L534.5 143.9 L529.0 144.0 L523.5 143.9 L518.1 143.7 L512.7 143.2 L507.5 142.6 L502.5 141.9 L497.6 141.0 L493.0 139.9 L488.6 138.7 L484.6 137.4 L480.9 136.0 L477.6 134.4 L474.6 132.8 L472.1 131.0 L470.0 129.2 L468.3 127.3 L467.2 125.4 L466.4 123.5 L466.2 121.5" fill="none" stroke="#efe95a" stroke-width="0.9" opacity="0.9"/>
<path d="M591.8 122.5 L591.6 124.5 L590.8 126.4 L589.7 128.3 L588.0 130.2 L585.9 132.0 L583.4 133.8 L580.4 135.4 L577.1 137.0 L573.4 138.4 L569.4 139.7 L565.0 140.9 L560.4 142.0 L555.5 142.9 L550.5 143.6 L545.3 144.2 L539.9 144.7 L534.5 144.9 L529.0 145.0 L523.5 144.9 L518.1 144.7 L512.7 144.2 L507.5 143.6 L502.5 142.9 L497.6 142.0 L493.0 140.9 L488.6 139.7 L484.6 138.4 L480.9 137.0 L477.6 135.4 L474.6 133.8 L472.1 132.0 L470.0 130.2 L468.3 128.3 L467.2 126.4 L466.4 124.5 L466.2 122.5" fill="none" stroke="#b5ae22" stroke-width="0.8" opacity="0.7"/>
<line x1="529.3" y1="117.5" x2="529.3" y2="170.0" stroke="#f0ec9a" stroke-width="1.0" opacity="0.55"/>
<line x1="530.2" y1="117.5" x2="530.2" y2="170.0" stroke="#a8a222" stroke-width="0.8" opacity="0.7"/>
<path d="M591.8 90.5 L591.6 92.9 L590.8 95.2 L589.7 97.5 L588.0 99.7 L585.9 101.9 L583.4 104.0 L580.4 106.0 L577.1 107.9 L573.4 109.6 L569.4 111.2 L565.0 112.6 L560.4 113.9 L555.5 115.0 L550.5 115.9 L545.3 116.6 L539.9 117.1 L534.5 117.4 L529.0 117.5 L523.5 117.4 L518.1 117.1 L512.7 116.6 L507.5 115.9 L502.5 115.0 L497.6 113.9 L493.0 112.6 L488.6 111.2 L484.6 109.6 L480.9 107.9 L477.6 106.0 L474.6 104.0 L472.1 101.9 L470.0 99.7 L468.3 97.5 L467.2 95.2 L466.4 92.9 L466.2 90.5 L466.4 88.1 L467.2 85.8 L468.3 83.5 L470.0 81.3 L472.1 79.1 L474.6 77.0 L477.6 75.0 L480.9 73.1 L484.6 71.4 L488.6 69.8 L493.0 68.4 L497.6 67.1 L502.5 66.0 L507.5 65.1 L512.7 64.4 L518.1 63.9 L523.5 63.6 L529.0 63.5 L534.5 63.6 L539.9 63.9 L545.3 64.4 L550.5 65.1 L555.5 66.0 L560.4 67.1 L565.0 68.4 L569.4 69.8 L573.4 71.4 L577.1 73.1 L580.4 75.0 L583.4 77.0 L585.9 79.1 L588.0 81.3 L589.7 83.5 L590.8 85.8 L591.6 88.1 L591.8 90.5 Z" fill="#e8e21e"/>
<path d="M590.9 94.2 L590.1 96.1 L589.0 97.9 L587.6 99.8 L585.9 101.5 L583.9 103.2 L581.7 104.9 L579.1 106.5 L576.3 107.9 L573.3 109.3 L570.0 110.7 L566.5 111.9 L562.9 112.9 L559.0 113.9 L555.0 114.8 L550.9 115.5 L546.6 116.1 L542.3 116.6 L537.9 116.9 L533.5 117.1 L529.0 117.2 L524.5 117.1 L520.1 116.9 L515.7 116.6 L511.4 116.1 L507.1 115.5 L503.0 114.8 L499.0 113.9 L495.1 112.9 L491.5 111.9 L488.0 110.7 L484.7 109.3 L481.7 107.9 L478.9 106.5 L476.3 104.9 L474.1 103.2 L472.1 101.5 L470.4 99.8 L469.0 97.9 L467.9 96.1 L467.1 94.2" fill="none" stroke="#f3ef78" stroke-width="1.0" opacity="0.8"/>
<g clip-path="url(#cp1)">
<line x1="460.0" y1="89.3" x2="598.0" y2="88.8" stroke="#f0ec58" stroke-width="2.6" opacity="0.95"/>
<line x1="530.5" y1="60.0" x2="530.5" y2="120.0" stroke="#b2ac2c" stroke-width="2.4" opacity="1.00"/>
<line x1="528.8" y1="60.0" x2="528.8" y2="120.0" stroke="#f8f6cc" stroke-width="1.0" opacity="1.00"/>
</g>
<path d="M464.3 112.0 L463.9 112.8 L463.3 113.9 L462.5 115.1 L461.7 116.5 L460.8 118.0 L459.8 119.5 L458.7 121.1 L457.7 122.6 L456.4 124.2 L454.9 126.1 L453.3 128.0 L451.7 130.0 L450.1 132.0 L448.6 133.7 L447.4 135.2 L446.5 136.3 L448.9 138.3 L449.8 137.3 L451.1 135.9 L452.7 134.2 L454.3 132.3 L456.1 130.4 L457.8 128.5 L459.4 126.6 L460.7 125.0 L462.0 123.5 L463.2 122.0 L464.4 120.5 L465.5 119.1 L466.4 117.8 L467.3 116.7 L468.1 115.7 L468.7 115.0 Z" fill="#2f9de0"/>
<path d="M464.6 123.7 L463.9 124.5 L463.0 125.6 L461.9 126.9 L460.7 128.3 L459.4 129.8 L458.1 131.4 L456.8 132.8 L455.6 134.2 L454.4 135.5 L453.2 136.9 L451.8 138.4 L450.5 139.8 L449.3 141.1 L448.2 142.4 L447.3 143.4 L446.6 144.2 L448.8 146.2 L449.5 145.5 L450.5 144.6 L451.7 143.4 L453.0 142.2 L454.3 140.8 L455.7 139.4 L457.1 138.1 L458.4 136.8 L459.7 135.6 L461.1 134.2 L462.5 132.8 L464.0 131.4 L465.3 130.1 L466.6 129.0 L467.6 128.0 L468.4 127.3 Z" fill="#2f9de0"/>
<path d="M447.5 139.2 L448.4 139.5 L449.5 139.8 L450.8 140.2 L452.3 140.6 L453.9 141.0 L455.5 141.5 L457.1 142.1 L458.6 142.7 L460.0 143.5 L461.5 144.4 L463.1 145.3 L464.6 146.3 L466.2 147.4 L467.8 148.6 L469.4 149.8 L471.0 151.1 L472.9 152.3 L474.8 153.6 L476.9 155.2 L478.9 156.8 L481.1 158.4 L483.2 160.1 L485.3 161.6 L487.4 163.1 L489.2 164.9 L491.0 166.7 L492.9 168.5 L494.7 170.2 L496.6 171.9 L498.4 173.5 L500.3 175.0 L502.1 176.4 L504.1 177.1 L506.1 177.7 L508.0 178.2 L509.8 178.5 L511.6 178.7 L513.4 178.8 L515.1 178.7 L516.9 178.6 L518.6 178.7 L520.4 178.7 L522.2 178.6 L523.9 178.4 L525.7 178.1 L527.4 177.7 L529.1 177.2 L530.8 176.8 L532.5 176.1 L534.1 175.4 L535.6 174.6 L537.1 173.7 L538.5 172.9 L539.9 172.1 L541.3 171.3 L542.8 170.6 L544.3 169.6 L545.9 168.5 L547.4 167.4 L549.0 166.3 L550.6 165.3 L552.2 164.4 L553.7 163.7 L555.1 163.1 L556.6 163.1 L557.9 163.3 L559.3 163.6 L560.5 164.0 L561.8 164.5 L563.2 165.1 L564.6 165.7 L565.9 166.2 L567.3 166.7 L568.6 167.3 L569.9 168.0 L571.4 168.7 L572.8 169.4 L574.4 170.0 L576.0 170.6 L577.7 171.1 L579.3 171.0 L581.0 170.9 L582.6 170.7 L584.2 170.4 L585.8 170.0 L587.3 169.5 L588.7 168.9 L590.0 168.2 L591.4 167.6 L592.7 166.9 L593.9 166.1 L595.1 165.2 L596.2 164.3 L597.3 163.3 L598.3 162.2 L599.2 161.1 L600.3 160.1 L601.2 159.0 L602.2 157.8 L603.0 156.5 L603.8 155.3 L604.6 154.0 L605.2 152.8 L605.9 151.7 L606.2 150.5 L606.5 149.3 L606.8 148.2 L607.0 147.0 L607.1 145.9 L607.1 144.7 L607.0 143.6 L606.8 142.4 L606.3 141.3 L605.7 140.3 L605.0 139.4 L604.3 138.7 L603.5 138.1 L602.8 137.5 L602.0 137.1 L601.2 136.6 L600.3 136.3 L599.4 136.1 L598.5 136.0 L597.7 136.0 L596.9 136.0 L596.3 136.1 L595.8 136.1 L595.4 136.2 L595.2 138.4 L595.6 138.6 L596.1 138.7 L596.7 138.9 L597.3 139.0 L597.9 139.2 L598.5 139.4 L598.9 139.7 L599.2 140.0 L599.5 140.3 L599.9 140.8 L600.3 141.3 L600.6 141.9 L600.9 142.4 L601.1 142.9 L601.2 143.4 L601.2 143.8 L601.3 144.2 L601.3 144.8 L601.3 145.5 L601.2 146.3 L601.1 147.1 L600.9 148.0 L600.6 148.9 L600.3 149.9 L600.2 151.0 L600.0 152.2 L599.7 153.5 L599.3 154.8 L598.9 156.1 L598.5 157.3 L598.0 158.5 L597.4 159.7 L596.5 160.6 L595.6 161.6 L594.6 162.5 L593.6 163.3 L592.6 164.1 L591.4 164.9 L590.3 165.5 L589.2 166.0 L587.9 166.2 L586.6 166.2 L585.2 166.2 L583.9 166.2 L582.5 166.0 L581.1 165.8 L579.8 165.5 L578.5 165.1 L577.3 165.0 L576.0 164.8 L574.7 164.4 L573.2 164.0 L571.8 163.5 L570.2 163.0 L568.6 162.6 L567.1 162.2 L565.6 162.0 L564.2 161.7 L562.7 161.5 L561.2 161.2 L559.7 161.1 L558.1 161.1 L556.5 161.2 L554.9 161.5 L553.1 161.6 L551.3 161.9 L549.4 162.4 L547.5 163.0 L545.6 163.7 L543.7 164.3 L541.9 165.0 L540.2 165.6 L538.6 166.5 L537.1 167.5 L535.7 168.6 L534.4 169.5 L533.1 170.5 L531.8 171.4 L530.5 172.1 L529.2 172.8 L527.8 173.5 L526.3 174.2 L524.8 174.9 L523.2 175.5 L521.7 176.0 L520.1 176.4 L518.5 176.7 L516.9 176.8 L515.4 176.5 L513.8 176.0 L512.3 175.5 L510.9 174.8 L509.4 174.1 L507.9 173.2 L506.4 172.3 L504.9 171.2 L503.1 170.5 L501.2 169.5 L499.2 168.3 L497.1 167.1 L495.1 165.7 L493.0 164.3 L490.9 162.9 L488.8 161.5 L487.0 159.7 L485.2 157.8 L483.4 155.8 L481.6 153.9 L479.8 151.9 L478.0 150.0 L476.2 148.1 L474.4 146.5 L472.5 145.3 L470.5 144.2 L468.6 143.2 L466.8 142.3 L465.0 141.6 L463.2 140.9 L461.5 140.2 L459.8 139.7 L458.1 139.1 L456.3 138.6 L454.6 138.3 L452.9 138.0 L451.3 137.8 L449.9 137.6 L448.8 137.5 L447.9 137.4 Z" fill="#2f9de0"/>
<path d="M447.5 139.2 L448.4 139.5 L449.5 139.8 L450.8 140.2 L451.3 137.8 L449.9 137.6 L448.8 137.5 L447.9 137.4 Z" fill="#2368b8"/>
<path d="M511.6 178.7 L513.4 178.8 L515.1 178.7 L516.9 178.6 L518.6 178.7 L520.4 178.7 L522.2 178.6 L521.7 176.0 L520.1 176.4 L518.5 176.7 L516.9 176.8 L515.4 176.5 L513.8 176.0 L512.3 175.5 Z" fill="#2368b8"/>
<path d="M550.6 165.3 L552.2 164.4 L553.7 163.7 L555.1 163.1 L556.6 163.1 L557.9 163.3 L559.3 163.6 L559.7 161.1 L558.1 161.1 L556.5 161.2 L554.9 161.5 L553.1 161.6 L551.3 161.9 L549.4 162.4 Z" fill="#2368b8"/>
<path d="M447.4 146.7 L448.2 147.3 L449.4 147.9 L450.7 148.6 L452.2 149.3 L453.7 150.1 L455.2 151.0 L456.6 151.9 L457.9 152.9 L459.2 153.7 L460.6 154.7 L461.9 155.8 L463.3 157.0 L464.7 158.2 L466.2 159.5 L467.7 160.8 L469.3 162.2 L471.0 163.4 L472.7 164.7 L474.5 166.1 L476.3 167.5 L478.2 168.9 L480.0 170.2 L481.7 171.6 L483.4 172.8 L484.8 174.3 L486.1 175.8 L487.4 177.3 L488.7 178.7 L490.0 180.2 L491.3 181.6 L492.7 182.9 L494.1 184.1 L495.8 184.9 L497.4 185.5 L498.9 186.1 L500.5 186.6 L502.1 187.0 L503.8 187.4 L505.4 187.6 L507.1 187.7 L508.8 187.9 L510.5 187.9 L512.3 187.9 L514.1 187.8 L515.8 187.6 L517.6 187.3 L519.3 187.0 L521.0 186.7 L522.8 186.6 L524.7 186.4 L526.5 186.1 L528.4 185.8 L530.2 185.5 L532.0 185.1 L533.7 184.8 L535.3 184.4 L536.7 183.6 L538.0 182.8 L539.1 182.0 L540.2 181.3 L541.2 180.5 L542.1 179.8 L543.1 179.0 L544.3 178.3 L545.6 177.6 L546.9 176.8 L548.3 176.0 L549.7 175.2 L551.1 174.4 L552.5 173.8 L553.8 173.3 L555.2 172.9 L556.5 172.9 L557.9 173.1 L559.2 173.4 L560.5 173.7 L561.9 174.1 L563.2 174.6 L564.6 175.1 L565.9 175.6 L567.2 175.9 L568.6 176.3 L570.0 176.8 L571.5 177.3 L573.0 177.8 L574.5 178.3 L576.1 178.8 L577.6 179.1 L579.0 179.1 L580.4 179.2 L581.7 179.1 L583.0 179.0 L584.2 178.9 L585.5 178.6 L586.8 178.1 L588.0 177.6 L589.3 177.2 L590.7 176.6 L592.1 175.9 L593.4 175.1 L594.8 174.3 L596.1 173.3 L597.4 172.2 L598.6 171.1 L599.8 169.9 L601.0 168.6 L602.1 167.1 L603.2 165.6 L604.2 164.1 L605.2 162.5 L606.0 161.1 L606.8 159.6 L607.2 158.1 L607.5 156.6 L607.8 155.2 L607.9 153.7 L608.0 152.4 L607.9 151.0 L607.8 149.8 L607.6 148.7 L607.4 147.6 L607.1 146.6 L606.7 145.6 L606.2 144.8 L605.6 144.0 L604.9 143.4 L604.1 142.9 L603.2 142.6 L602.1 142.6 L601.1 142.8 L600.0 143.2 L598.8 143.8 L597.8 144.3 L596.8 144.8 L596.0 145.2 L595.5 145.4 L596.5 147.6 L597.1 147.2 L597.9 146.7 L598.8 146.2 L599.8 145.6 L600.8 145.1 L601.7 144.6 L602.4 144.4 L602.8 144.4 L603.1 144.6 L603.4 144.9 L603.7 145.4 L604.0 146.0 L604.2 146.6 L604.3 147.4 L604.4 148.1 L604.4 148.9 L604.2 149.8 L604.0 150.7 L603.7 151.7 L603.3 152.8 L602.9 153.9 L602.4 155.1 L601.8 156.2 L601.2 157.4 L600.8 158.7 L600.3 160.2 L599.7 161.7 L599.1 163.3 L598.4 164.8 L597.6 166.3 L596.8 167.6 L596.0 168.9 L595.1 170.0 L594.1 171.0 L593.0 172.1 L591.9 173.0 L590.8 173.8 L589.6 174.6 L588.5 175.3 L587.4 175.8 L586.3 176.0 L585.2 176.0 L584.1 175.9 L583.1 175.7 L582.0 175.4 L580.9 175.1 L579.8 174.7 L578.6 174.3 L577.4 174.0 L576.1 173.6 L574.8 173.0 L573.4 172.4 L571.9 171.8 L570.3 171.2 L568.7 170.6 L567.1 170.2 L565.6 170.1 L564.0 170.0 L562.5 170.0 L561.0 170.0 L559.4 170.1 L557.9 170.3 L556.3 170.5 L554.8 170.9 L553.3 171.2 L551.7 171.6 L550.1 172.1 L548.5 172.7 L547.0 173.3 L545.5 174.0 L544.1 174.6 L542.7 175.1 L541.4 175.6 L540.1 176.1 L538.9 176.6 L537.8 177.0 L536.6 177.5 L535.5 177.9 L534.4 178.3 L533.1 178.6 L531.7 179.3 L530.3 180.1 L528.7 180.8 L527.1 181.6 L525.5 182.3 L523.8 182.9 L522.2 183.5 L520.6 184.1 L518.9 184.3 L517.2 184.6 L515.5 184.8 L513.8 185.0 L512.2 185.1 L510.5 185.1 L509.0 185.1 L507.5 184.9 L506.1 184.4 L504.8 183.9 L503.6 183.2 L502.3 182.5 L501.1 181.7 L499.9 180.8 L498.7 179.9 L497.5 178.9 L496.0 178.2 L494.6 177.4 L493.1 176.5 L491.5 175.5 L490.0 174.4 L488.3 173.3 L486.7 172.1 L485.0 171.0 L483.5 169.5 L481.9 168.0 L480.3 166.4 L478.7 164.8 L477.0 163.2 L475.4 161.6 L473.8 160.1 L472.3 158.6 L470.8 157.3 L469.3 156.0 L467.9 154.7 L466.4 153.4 L465.0 152.1 L463.5 150.9 L462.0 149.8 L460.5 148.7 L458.7 148.0 L456.9 147.3 L455.1 146.7 L453.3 146.3 L451.6 145.9 L450.2 145.6 L448.9 145.4 L448.0 145.3 Z" fill="#2f9de0"/>
<path d="M447.4 146.7 L448.2 147.3 L449.4 147.9 L450.7 148.6 L451.6 145.9 L450.2 145.6 L448.9 145.4 L448.0 145.3 Z" fill="#2368b8"/>
<path d="M551.1 174.4 L552.5 173.8 L553.8 173.3 L555.2 172.9 L556.5 172.9 L557.9 173.1 L559.2 173.4 L559.4 170.1 L557.9 170.3 L556.3 170.5 L554.8 170.9 L553.3 171.2 L551.7 171.6 L550.1 172.1 Z" fill="#2368b8"/>
<path d="M584.2 178.9 L585.5 178.6 L586.8 178.1 L588.0 177.6 L589.3 177.2 L590.7 176.6 L592.1 175.9 L590.8 173.8 L589.6 174.6 L588.5 175.3 L587.4 175.8 L586.3 176.0 L585.2 176.0 L584.1 175.9 Z" fill="#2368b8"/>
<path d="M605.6 144.0 L604.9 143.4 L604.1 142.9 L603.2 142.6 L602.1 142.6 L601.1 142.8 L600.0 143.2 L600.8 145.1 L601.7 144.6 L602.4 144.4 L602.8 144.4 L603.1 144.6 L603.4 144.9 L603.7 145.4 Z" fill="#2368b8"/>
<path d="M450.6 92.3 L451.6 93.3 L452.9 94.5 L454.5 95.9 L456.3 97.5 L458.2 99.1 L460.1 100.8 L461.9 102.6 L463.6 104.2 L465.3 105.8 L467.0 107.4 L468.7 109.1 L470.4 110.9 L472.1 112.6 L473.8 114.3 L475.5 116.0 L477.0 117.6 L478.6 119.1 L480.1 120.6 L481.6 122.2 L483.0 123.7 L484.5 125.2 L486.1 126.5 L487.7 127.8 L489.4 128.8 L491.0 129.9 L492.7 130.8 L494.4 131.6 L496.2 132.2 L498.1 132.7 L499.9 133.1 L501.7 133.4 L503.6 133.7 L505.5 133.4 L507.3 132.9 L509.1 132.3 L510.8 131.6 L512.5 130.9 L514.1 130.3 L515.6 129.6 L517.2 129.0 L518.8 128.7 L520.5 128.4 L522.1 128.1 L523.8 127.9 L525.4 127.6 L527.1 127.3 L528.6 127.1 L530.2 126.9 L531.8 126.8 L533.3 126.7 L534.7 126.7 L536.1 126.6 L537.4 126.6 L538.7 126.7 L540.1 126.8 L541.4 127.1 L542.8 127.0 L544.4 127.0 L546.0 127.0 L547.7 127.1 L549.4 127.3 L551.1 127.5 L552.8 127.8 L554.5 128.0 L556.2 128.5 L557.8 129.1 L559.5 129.8 L561.2 130.5 L562.9 131.2 L564.7 131.8 L566.4 132.4 L568.2 132.8 L570.0 133.3 L571.7 133.8 L573.5 134.2 L575.3 134.5 L577.1 134.7 L578.9 134.8 L580.8 134.8 L582.7 134.6 L584.5 133.8 L586.2 132.8 L587.7 131.8 L589.2 130.7 L590.7 129.5 L592.0 128.3 L593.2 127.1 L594.4 125.9 L595.6 124.8 L596.7 123.7 L597.8 122.6 L598.8 121.4 L599.8 120.3 L600.7 119.1 L601.4 117.9 L602.1 116.8 L603.0 115.7 L603.7 114.6 L604.4 113.4 L605.1 112.3 L605.6 111.1 L606.1 109.8 L606.4 108.6 L606.6 107.3 L606.5 106.0 L606.1 104.7 L605.6 103.6 L605.0 102.5 L604.3 101.5 L603.6 100.6 L602.8 99.8 L601.8 99.1 L600.6 98.5 L599.3 98.2 L598.1 98.0 L596.9 98.0 L595.9 98.0 L595.0 98.0 L594.3 98.0 L593.8 98.1 L593.2 102.7 L593.8 102.9 L594.6 103.1 L595.4 103.2 L596.3 103.4 L597.1 103.6 L597.8 103.8 L598.3 104.1 L598.6 104.3 L598.9 104.5 L599.4 104.9 L599.9 105.3 L600.4 105.8 L600.7 106.3 L601.0 106.8 L601.3 107.2 L601.4 107.7 L601.6 108.3 L601.7 109.1 L601.7 110.1 L601.6 111.1 L601.4 112.2 L601.1 113.3 L600.7 114.5 L600.3 115.6 L599.6 116.7 L598.8 117.7 L597.9 118.7 L597.0 119.8 L596.0 120.8 L594.9 121.8 L593.8 122.8 L592.6 123.7 L591.3 124.5 L589.8 125.3 L588.4 126.1 L586.9 126.8 L585.4 127.5 L583.9 128.0 L582.4 128.4 L581.1 128.6 L579.8 129.1 L578.4 129.5 L576.9 129.9 L575.4 130.1 L573.8 130.2 L572.1 130.3 L570.4 130.3 L568.8 130.2 L567.2 129.8 L565.6 129.2 L564.0 128.6 L562.3 127.8 L560.7 127.0 L559.0 126.3 L557.2 125.6 L555.5 125.0 L553.8 124.3 L552.0 123.7 L550.3 123.1 L548.6 122.6 L546.8 122.1 L545.1 121.6 L543.3 121.2 L541.6 120.9 L539.9 121.1 L538.3 121.5 L536.8 121.8 L535.4 122.3 L534.0 122.7 L532.6 123.2 L531.2 123.7 L529.8 124.1 L528.2 124.4 L526.6 124.6 L525.0 124.9 L523.3 125.2 L521.7 125.4 L520.0 125.7 L518.3 126.0 L516.6 126.4 L514.9 126.5 L513.1 126.8 L511.3 127.0 L509.6 127.3 L508.0 127.5 L506.4 127.6 L504.9 127.6 L503.4 127.5 L501.9 127.7 L500.3 127.9 L498.7 127.9 L497.0 127.9 L495.4 127.8 L493.8 127.6 L492.2 127.2 L490.6 126.6 L489.3 125.6 L488.0 124.4 L486.7 123.0 L485.5 121.5 L484.2 119.9 L482.8 118.2 L481.4 116.5 L480.0 114.8 L478.4 113.2 L476.7 111.5 L475.0 109.8 L473.3 108.0 L471.6 106.3 L469.8 104.5 L468.1 102.8 L466.4 101.2 L464.5 99.6 L462.5 98.0 L460.5 96.3 L458.5 94.8 L456.6 93.3 L455.0 92.0 L453.5 90.9 L452.4 90.1 Z" fill="#2f9de0"/>
<path d="M447.1 97.6 L448.0 98.7 L449.3 100.0 L450.9 101.6 L452.7 103.3 L454.5 105.1 L456.3 106.9 L457.9 108.7 L459.2 110.3 L460.6 111.7 L461.8 113.1 L463.0 114.7 L464.1 116.3 L465.3 117.9 L466.6 119.6 L467.9 121.4 L469.4 123.0 L470.9 124.8 L472.5 126.7 L474.2 128.6 L475.9 130.5 L477.7 132.3 L479.5 134.0 L481.3 135.6 L483.1 137.0 L484.8 138.2 L486.5 139.3 L488.3 140.2 L490.0 141.0 L491.8 141.7 L493.7 142.2 L495.5 142.7 L497.5 143.0 L499.5 142.9 L501.5 142.6 L503.5 142.1 L505.5 141.6 L507.4 141.0 L509.3 140.3 L511.3 139.7 L513.2 139.1 L515.4 139.0 L517.6 138.8 L519.9 138.6 L522.2 138.4 L524.5 138.2 L526.6 138.0 L528.7 137.8 L530.6 137.7 L532.3 137.3 L533.8 136.8 L535.2 136.4 L536.5 136.1 L537.6 135.8 L538.8 135.5 L540.0 135.4 L541.3 135.4 L542.7 135.4 L544.3 135.6 L545.9 135.9 L547.6 136.3 L549.4 136.8 L551.1 137.3 L552.9 137.8 L554.7 138.3 L556.2 139.3 L557.7 140.3 L559.3 141.4 L560.8 142.6 L562.5 143.7 L564.2 144.8 L566.0 145.8 L567.8 146.5 L569.8 146.7 L571.7 146.8 L573.6 146.7 L575.4 146.6 L577.2 146.3 L579.0 145.9 L580.7 145.4 L582.4 144.8 L584.1 144.1 L585.7 143.3 L587.3 142.4 L588.8 141.4 L590.3 140.4 L591.6 139.3 L592.9 138.2 L594.2 137.1 L595.5 136.3 L596.9 135.4 L598.1 134.4 L599.4 133.4 L600.5 132.4 L601.7 131.3 L602.7 130.3 L603.7 129.2 L604.4 127.9 L605.0 126.6 L605.5 125.3 L605.9 124.0 L606.2 122.7 L606.5 121.5 L606.7 120.3 L606.7 119.2 L606.7 118.1 L606.5 117.1 L606.2 116.1 L605.9 115.1 L605.4 114.2 L604.8 113.4 L604.1 112.6 L603.2 112.0 L602.2 111.4 L601.0 110.9 L599.8 110.6 L598.5 110.3 L597.3 110.0 L596.2 109.9 L595.3 109.7 L594.6 109.6 L594.2 111.2 L594.8 111.5 L595.6 111.9 L596.7 112.3 L597.7 112.7 L598.8 113.2 L599.8 113.7 L600.5 114.2 L601.0 114.6 L601.2 115.1 L601.4 115.5 L601.5 116.0 L601.6 116.5 L601.6 117.0 L601.5 117.5 L601.4 118.1 L601.3 118.8 L601.2 119.6 L601.0 120.4 L600.8 121.4 L600.5 122.3 L600.2 123.3 L599.7 124.3 L599.3 125.3 L598.7 126.2 L598.3 127.3 L597.8 128.5 L597.1 129.6 L596.4 130.8 L595.6 132.0 L594.8 133.2 L593.8 134.3 L592.8 135.5 L591.5 136.4 L590.2 137.3 L588.8 138.2 L587.3 139.0 L585.8 139.8 L584.3 140.4 L582.9 141.0 L581.4 141.4 L579.9 141.6 L578.3 141.8 L576.8 141.8 L575.2 141.8 L573.7 141.6 L572.1 141.4 L570.6 141.1 L569.2 140.7 L567.7 140.5 L566.1 140.2 L564.4 139.7 L562.7 139.1 L560.9 138.4 L559.0 137.8 L557.2 137.2 L555.3 136.7 L553.7 135.8 L552.0 135.0 L550.3 134.2 L548.6 133.4 L546.9 132.7 L545.2 132.0 L543.5 131.4 L541.7 131.0 L540.1 130.8 L538.5 130.7 L536.9 130.8 L535.5 131.0 L534.0 131.2 L532.6 131.4 L531.1 131.7 L529.4 131.9 L527.6 132.5 L525.6 133.2 L523.5 133.9 L521.4 134.7 L519.2 135.4 L517.1 136.2 L515.0 136.9 L513.0 137.5 L510.9 137.6 L508.9 137.8 L506.8 137.9 L504.9 138.0 L503.0 138.0 L501.2 137.9 L499.5 137.7 L497.9 137.4 L496.3 137.3 L494.7 137.1 L493.2 136.9 L491.6 136.5 L490.1 136.0 L488.5 135.4 L486.9 134.7 L485.3 133.8 L483.7 132.6 L482.0 131.2 L480.3 129.6 L478.6 127.9 L476.9 126.1 L475.3 124.3 L473.7 122.5 L472.2 120.8 L471.0 119.1 L469.9 117.4 L468.9 115.6 L467.9 113.9 L466.9 112.1 L465.8 110.3 L464.6 108.5 L463.2 106.7 L461.3 105.1 L459.3 103.5 L457.1 102.0 L455.0 100.5 L453.0 99.1 L451.1 97.9 L449.5 96.9 L448.3 96.2 Z" fill="#2f9de0"/>
<path d="M447.1 97.6 L448.0 98.7 L449.3 100.0 L450.9 101.6 L453.0 99.1 L451.1 97.9 L449.5 96.9 L448.3 96.2 Z" fill="#2368b8"/>
<path d="M507.4 141.0 L509.3 140.3 L511.3 139.7 L513.2 139.1 L515.4 139.0 L517.6 138.8 L519.9 138.6 L519.2 135.4 L517.1 136.2 L515.0 136.9 L513.0 137.5 L510.9 137.6 L508.9 137.8 L506.8 137.9 Z" fill="#2368b8"/>
<path d="M549.4 136.8 L551.1 137.3 L552.9 137.8 L554.7 138.3 L556.2 139.3 L557.7 140.3 L559.3 141.4 L560.9 138.4 L559.0 137.8 L557.2 137.2 L555.3 136.7 L553.7 135.8 L552.0 135.0 L550.3 134.2 Z" fill="#2368b8"/>
<path d="M597.3 110.0 L596.2 109.9 L595.3 109.7 L594.6 109.6 L594.2 111.2 L594.8 111.5 L595.6 111.9 L596.7 112.3 Z" fill="#2368b8"/>
<path d="M602.5 104.5 C602.1 104.0 601.7 102.4 600.2 101.7 C598.7 101.0 594.6 100.6 593.5 100.4" fill="none" stroke="#1f4c9c" stroke-width="3.6" stroke-linecap="butt"/>
<path d="M603.3 116.0 C603.1 115.5 603.6 114.2 602.1 113.3 C600.6 112.4 595.7 110.9 594.4 110.4" fill="none" stroke="#1f4c9c" stroke-width="3.6" stroke-linecap="butt"/>
<path d="M602.5 140.5 C602.1 140.1 601.4 138.8 600.2 138.3 C599.0 137.8 596.1 137.5 595.3 137.3" fill="none" stroke="#1f4c9c" stroke-width="3.6" stroke-linecap="butt"/>
<path d="M603.0 143.5 L596.0 146.5" fill="none" stroke="#1f4c9c" stroke-width="3.6" stroke-linecap="butt"/>
<path d="M455.7 78 L445.5 89.7 L451.2 90.7 L445.8 98.3 L450.8 100.3 L455.6 94.2 L460 97 L457.4 86.5 L453.2 89.2 L456.4 85.5 Z" fill="#2f9de0"/>
<path d="M853.9 55.9 L854.2 51.7 L854.9 47.4 L856.0 43.3 L857.5 39.3 L859.4 35.3 L861.6 31.6 L864.1 28.0 L867.0 24.7 L870.2 21.6 L873.6 18.7 L877.3 16.2 L881.2 13.9 L885.4 12.0 L889.6 10.4 L894.0 9.2 L898.5 8.3 L903.1 7.8 L907.7 7.7 L912.3 7.9 L916.8 8.5 L921.2 9.5 L925.6 10.8 L929.8 12.5 L933.8 14.5 L937.6 16.9 L941.2 19.5 L944.5 22.4 L947.5 25.6 L950.2 29.0 L952.6 32.6 L963.6 51.6 L965.6 55.4 L967.3 59.4 L968.6 63.4 L969.5 67.6 L970.0 71.8 L970.1 76.1 L969.8 80.3 L969.1 84.6 L968.0 88.7 L966.5 92.7 L964.6 96.7 L962.4 100.4 L959.9 104.0 L957.0 107.3 L953.8 110.4 L950.4 113.3 L946.7 115.8 L942.8 118.1 L938.6 120.0 L934.4 121.6 L930.0 122.8 L925.5 123.7 L920.9 124.2 L916.3 124.3 L911.7 124.1 L907.2 123.5 L902.8 122.5 L898.4 121.2 L894.2 119.5 L890.2 117.5 L886.4 115.2 L882.8 112.5 L879.5 109.6 L876.5 106.4 L873.8 103.0 L871.4 99.4 L860.4 80.4 L858.4 76.6 L856.7 72.6 L855.4 68.6 L854.5 64.4 L854.0 60.2 Z" fill="url(#g6)"/>
<line x1="904.3" y1="107.7" x2="917.2" y2="124.9" stroke="#f0ec9a" stroke-width="1.0" opacity="0.55"/>
<line x1="905.2" y1="107.7" x2="918.1" y2="124.9" stroke="#a8a222" stroke-width="0.8" opacity="0.7"/>
<path d="M959.0 52.8 L959.1 57.1 L958.8 61.3 L958.1 65.6 L957.0 69.7 L955.5 73.7 L953.6 77.7 L951.4 81.4 L948.9 85.0 L946.0 88.3 L942.8 91.4 L939.4 94.3 L935.7 96.8 L931.8 99.1 L927.6 101.0 L923.4 102.6 L919.0 103.8 L914.5 104.7 L909.9 105.2 L905.3 105.3 L900.7 105.1 L896.2 104.5 L891.8 103.5 L887.4 102.2 L883.2 100.5 L879.2 98.5 L875.4 96.2 L871.8 93.5 L868.5 90.6 L865.5 87.4 L862.8 84.0 L860.4 80.4 L858.4 76.6 L856.7 72.6 L855.4 68.6 L854.5 64.4 L854.0 60.2 L853.9 55.9 L854.2 51.7 L854.9 47.4 L856.0 43.3 L857.5 39.3 L859.4 35.3 L861.6 31.6 L864.1 28.0 L867.0 24.7 L870.2 21.6 L873.6 18.7 L877.3 16.2 L881.2 13.9 L885.4 12.0 L889.6 10.4 L894.0 9.2 L898.5 8.3 L903.1 7.8 L907.7 7.7 L912.3 7.9 L916.8 8.5 L921.2 9.5 L925.6 10.8 L929.8 12.5 L933.8 14.5 L937.6 16.8 L941.2 19.5 L944.5 22.4 L947.5 25.6 L950.2 29.0 L952.6 32.6 L954.6 36.4 L956.3 40.4 L957.6 44.4 L958.5 48.6 L959.0 52.8 Z" fill="#e9e32a"/>
<path d="M958.6 59.6 L958.2 63.1 L957.5 66.5 L956.6 69.9 L955.4 73.2 L954.0 76.4 L952.3 79.5 L950.4 82.5 L948.2 85.4 L945.8 88.1 L943.3 90.6 L940.5 93.0 L937.6 95.2 L934.5 97.2 L931.3 99.0 L927.9 100.5 L924.5 101.9 L920.9 103.0 L917.3 103.9 L913.6 104.5 L909.9 104.9 L906.1 105.0 L902.4 104.9 L898.7 104.5 L895.0 103.9 L891.4 103.1 L887.9 102.0 L884.4 100.7 L881.1 99.1 L877.9 97.4 L874.8 95.4 L871.9 93.2 L869.2 90.9 L866.7 88.3 L864.4 85.6 L862.3 82.8 L860.4 79.8 L858.7 76.7 L857.3 73.5 L856.2 70.2 L855.3 66.8" fill="none" stroke="#f3ef78" stroke-width="1.0" opacity="0.8"/>
<g clip-path="url(#cp2)">
<line x1="849.9" y1="57.0" x2="961.9" y2="47.9" stroke="#d5cf2a" stroke-width="2.2" opacity="1.00"/>
<line x1="850.0" y1="58.4" x2="962.0" y2="49.3" stroke="#8f8a24" stroke-width="1.2" opacity="1.00"/>
<line x1="906.7" y1="3.9" x2="901.6" y2="106.9" stroke="#f2ef74" stroke-width="3.2" opacity="1.00"/>
<line x1="909.1" y1="4.0" x2="904.0" y2="107.0" stroke="#a8a228" stroke-width="1.8" opacity="1.00"/>
</g>
<path d="M833.1 196.0 L833.3 193.4 L833.9 190.7 L834.9 188.0 L836.3 185.2 L838.1 182.6 L840.2 179.9 L842.8 177.4 L845.7 174.9 L848.9 172.6 L852.4 170.3 L856.2 168.2 L860.2 166.3 L864.4 164.5 L868.8 163.0 L873.4 161.6 L878.0 160.4 L882.8 159.5 L887.6 158.7 L892.4 158.2 L897.1 158.0 L901.8 157.9 L906.4 158.2 L910.8 158.6 L915.1 159.3 L919.1 160.2 L923.0 161.3 L926.5 162.6 L929.8 164.2 L932.7 165.9 L935.3 167.8 L937.6 169.8 L939.4 172.0 L940.9 174.4 L942.0 176.8 L942.7 179.4 L942.9 182.0 L946.3 226.5 L946.1 228.8 L945.4 231.1 L944.3 233.4 L942.9 235.7 L941.0 238.0 L938.8 240.2 L936.2 242.4 L933.2 244.6 L930.0 246.7 L926.4 248.6 L922.6 250.5 L918.5 252.2 L914.3 253.8 L909.8 255.3 L905.3 256.6 L900.6 257.7 L895.8 258.6 L891.1 259.4 L886.3 259.9 L881.5 260.3 L876.9 260.4 L872.3 260.4 L867.9 260.1 L863.7 259.7 L859.7 259.1 L855.9 258.2 L852.4 257.2 L849.2 256.0 L846.3 254.7 L843.8 253.1 L841.6 251.5 L839.8 249.7 L838.4 247.8 L837.4 245.7 L836.8 243.6 Z" fill="url(#g7)"/>
<path d="M944.4 201.9 L944.6 204.3 L944.4 206.7 L943.8 209.2 L942.7 211.7 L941.3 214.2 L939.5 216.7 L937.3 219.1 L934.7 221.5 L931.8 223.8 L928.5 226.1 L925.0 228.2 L921.2 230.1 L917.2 232.0 L912.9 233.7 L908.5 235.2 L903.9 236.5 L899.3 237.6 L894.5 238.6 L889.7 239.3 L885.0 239.8 L880.2 240.2 L875.5 240.2 L871.0 240.1 L866.6 239.8 L862.3 239.2 L858.3 238.4 L854.5 237.5 L850.9 236.3 L847.7 234.9 L844.8 233.4 L842.2 231.7 L840.0 229.8 L838.2 227.8 L836.8 225.7 L835.7 223.5 L835.1 221.1" fill="none" stroke="#efe95a" stroke-width="0.9" opacity="0.9"/>
<path d="M944.4 202.9 L944.6 205.3 L944.4 207.7 L943.8 210.2 L942.7 212.7 L941.3 215.2 L939.5 217.7 L937.3 220.1 L934.7 222.5 L931.8 224.8 L928.5 227.1 L925.0 229.2 L921.2 231.1 L917.2 233.0 L912.9 234.7 L908.5 236.2 L903.9 237.5 L899.3 238.6 L894.5 239.6 L889.7 240.3 L885.0 240.8 L880.2 241.2 L875.5 241.2 L871.0 241.1 L866.6 240.8 L862.3 240.2 L858.3 239.4 L854.5 238.5 L850.9 237.3 L847.7 235.9 L844.8 234.4 L842.2 232.7 L840.0 230.8 L838.2 228.8 L836.8 226.7 L835.7 224.5 L835.1 222.1" fill="none" stroke="#b5ae22" stroke-width="0.8" opacity="0.7"/>
<line x1="897.7" y1="217.5" x2="899.6" y2="257.8" stroke="#f0ec9a" stroke-width="1.0" opacity="0.55"/>
<line x1="898.6" y1="217.5" x2="900.5" y2="257.8" stroke="#a8a222" stroke-width="0.8" opacity="0.7"/>
<path d="M942.7 179.4 L942.9 182.0 L942.7 184.6 L942.1 187.3 L941.1 190.0 L939.7 192.8 L937.9 195.4 L935.8 198.1 L933.2 200.6 L930.3 203.1 L927.1 205.4 L923.6 207.7 L919.8 209.8 L915.8 211.7 L911.6 213.5 L907.2 215.0 L902.6 216.4 L898.0 217.6 L893.2 218.5 L888.4 219.3 L883.6 219.8 L878.9 220.0 L874.2 220.1 L869.6 219.8 L865.2 219.4 L860.9 218.7 L856.9 217.8 L853.0 216.7 L849.5 215.4 L846.2 213.8 L843.3 212.1 L840.7 210.2 L838.4 208.2 L836.6 206.0 L835.1 203.6 L834.0 201.2 L833.3 198.6 L833.1 196.0 L833.3 193.4 L833.9 190.7 L834.9 188.0 L836.3 185.2 L838.1 182.6 L840.2 179.9 L842.8 177.4 L845.7 174.9 L848.9 172.6 L852.4 170.3 L856.2 168.2 L860.2 166.3 L864.4 164.5 L868.8 163.0 L873.4 161.6 L878.0 160.4 L882.8 159.5 L887.6 158.7 L892.4 158.2 L897.1 158.0 L901.8 157.9 L906.4 158.2 L910.8 158.6 L915.1 159.3 L919.1 160.2 L923.0 161.3 L926.5 162.6 L929.8 164.2 L932.7 165.9 L935.3 167.8 L937.6 169.8 L939.4 172.0 L940.9 174.4 L942.0 176.8 L942.7 179.4 Z" fill="#e8e21e"/>
<path d="M942.6 183.6 L942.2 185.8 L941.6 188.0 L940.8 190.2 L939.6 192.4 L938.2 194.5 L936.6 196.7 L934.7 198.8 L932.5 200.9 L930.1 202.9 L927.6 204.8 L924.8 206.6 L921.8 208.4 L918.6 210.1 L915.3 211.6 L911.9 213.0 L908.3 214.4 L904.6 215.5 L900.9 216.6 L897.0 217.5 L893.2 218.2 L889.3 218.9 L885.4 219.3 L881.5 219.6 L877.6 219.8 L873.8 219.8 L870.1 219.6 L866.4 219.3 L862.9 218.8 L859.5 218.1 L856.2 217.4 L853.1 216.4 L850.2 215.4 L847.5 214.2 L845.0 212.8 L842.7 211.4 L840.6 209.8 L838.8 208.1 L837.2 206.4 L835.9 204.5 L834.9 202.6" fill="none" stroke="#f3ef78" stroke-width="1.0" opacity="0.8"/>
<g clip-path="url(#cp3)">
<line x1="861.5" y1="191.2" x2="947.0" y2="175.8" stroke="#f0ec58" stroke-width="2.6" opacity="0.95"/>
<line x1="877.2" y1="155.7" x2="899.1" y2="220.7" stroke="#c2bb28" stroke-width="2.2" opacity="1.00"/>
<line x1="876.0" y1="156.1" x2="897.9" y2="221.1" stroke="#8f8a28" stroke-width="1.0" opacity="1.00"/>
</g>
<path d="M772.5 119.4 L772.8 117.5 L773.5 115.7 L774.6 113.9 L776.2 112.2 L778.1 110.5 L780.4 108.9 L783.1 107.5 L786.1 106.1 L789.4 104.9 L793.1 103.8 L797.0 102.8 L801.1 102.0 L805.5 101.3 L810.0 100.8 L814.6 100.5 L819.4 100.3 L824.2 100.3 L829.0 100.4 L833.9 100.7 L838.6 101.2 L843.4 101.8 L848.0 102.6 L852.4 103.6 L856.6 104.6 L860.7 105.8 L864.5 107.2 L868.0 108.6 L871.2 110.1 L874.1 111.8 L876.6 113.5 L878.8 115.3 L880.5 117.1 L881.9 118.9 L882.9 120.8 L883.4 122.7 L883.5 124.6 L884.1 177.0 L883.9 178.5 L883.3 180.0 L882.3 181.5 L880.8 182.9 L879.0 184.3 L876.8 185.7 L874.2 187.0 L871.3 188.2 L868.0 189.3 L864.5 190.4 L860.6 191.4 L856.6 192.2 L852.3 193.0 L847.8 193.6 L843.2 194.2 L838.4 194.6 L833.6 194.8 L828.8 195.0 L824.0 195.0 L819.1 194.9 L814.4 194.7 L809.8 194.3 L805.3 193.8 L801.0 193.2 L796.9 192.5 L793.0 191.6 L789.4 190.7 L786.1 189.7 L783.1 188.5 L780.5 187.3 L778.2 186.1 L776.4 184.7 L774.9 183.3 L773.8 181.9 L773.1 180.4 L772.9 179.0 Z" fill="url(#g8)"/>
<path d="M883.8 150.8 L883.6 152.5 L882.9 154.2 L881.9 155.8 L880.4 157.4 L878.5 158.9 L876.3 160.4 L873.6 161.7 L870.7 163.0 L867.4 164.2 L863.8 165.3 L859.9 166.3 L855.8 167.1 L851.5 167.8 L847.0 168.4 L842.4 168.9 L837.6 169.1 L832.8 169.3 L828.0 169.3 L823.1 169.2 L818.3 168.9 L813.6 168.4 L809.0 167.9 L804.5 167.1 L800.2 166.3 L796.1 165.3 L792.3 164.3 L788.7 163.1 L785.5 161.8 L782.5 160.4 L780.0 158.9 L777.7 157.4 L775.9 155.8 L774.5 154.2 L773.5 152.5 L772.8 150.9 L772.7 149.2" fill="none" stroke="#efe95a" stroke-width="0.9" opacity="0.9"/>
<path d="M883.8 151.8 L883.6 153.5 L882.9 155.2 L881.9 156.8 L880.4 158.4 L878.5 159.9 L876.3 161.4 L873.6 162.7 L870.7 164.0 L867.4 165.2 L863.8 166.3 L859.9 167.3 L855.8 168.1 L851.5 168.8 L847.0 169.4 L842.4 169.9 L837.6 170.1 L832.8 170.3 L828.0 170.3 L823.1 170.2 L818.3 169.9 L813.6 169.4 L809.0 168.9 L804.5 168.1 L800.2 167.3 L796.1 166.3 L792.3 165.3 L788.7 164.1 L785.5 162.8 L782.5 161.4 L780.0 159.9 L777.7 158.4 L775.9 156.8 L774.5 155.2 L773.5 153.5 L772.8 151.9 L772.7 150.2" fill="none" stroke="#b5ae22" stroke-width="0.8" opacity="0.7"/>
<line x1="818.9" y1="143.5" x2="819.5" y2="194.5" stroke="#f0ec9a" stroke-width="1.0" opacity="0.55"/>
<line x1="819.8" y1="143.5" x2="820.4" y2="194.5" stroke="#a8a222" stroke-width="0.8" opacity="0.7"/>
<path d="M883.5 124.6 L883.2 126.5 L882.5 128.3 L881.4 130.1 L879.8 131.8 L877.9 133.5 L875.6 135.1 L872.9 136.5 L869.9 137.9 L866.6 139.1 L862.9 140.2 L859.0 141.2 L854.9 142.0 L850.5 142.7 L846.0 143.2 L841.4 143.5 L836.6 143.7 L831.8 143.7 L827.0 143.6 L822.1 143.3 L817.4 142.8 L812.6 142.2 L808.0 141.4 L803.6 140.4 L799.3 139.4 L795.3 138.2 L791.5 136.8 L788.0 135.4 L784.8 133.9 L781.9 132.2 L779.4 130.5 L777.2 128.7 L775.5 126.9 L774.1 125.1 L773.1 123.2 L772.6 121.3 L772.5 119.4 L772.8 117.5 L773.5 115.7 L774.6 113.9 L776.2 112.2 L778.1 110.5 L780.4 108.9 L783.1 107.5 L786.1 106.1 L789.4 104.9 L793.1 103.8 L797.0 102.8 L801.1 102.0 L805.5 101.3 L810.0 100.8 L814.6 100.5 L819.4 100.3 L824.2 100.3 L829.0 100.4 L833.9 100.7 L838.6 101.2 L843.4 101.8 L848.0 102.6 L852.4 103.6 L856.7 104.6 L860.7 105.8 L864.5 107.2 L868.0 108.6 L871.2 110.1 L874.1 111.8 L876.6 113.5 L878.8 115.3 L880.5 117.1 L881.9 118.9 L882.9 120.8 L883.4 122.7 L883.5 124.6 Z" fill="#e8e21e"/>
<path d="M882.6 127.5 L881.8 129.0 L880.8 130.4 L879.5 131.8 L877.9 133.2 L876.1 134.4 L874.0 135.7 L871.7 136.8 L869.2 137.9 L866.4 138.9 L863.5 139.8 L860.4 140.6 L857.1 141.3 L853.6 141.9 L850.1 142.4 L846.4 142.8 L842.6 143.1 L838.8 143.3 L834.9 143.4 L830.9 143.4 L827.0 143.3 L823.0 143.0 L819.1 142.7 L815.3 142.2 L811.4 141.7 L807.7 141.0 L804.1 140.3 L800.6 139.4 L797.2 138.5 L794.0 137.5 L791.0 136.3 L788.2 135.2 L785.5 133.9 L783.1 132.6 L780.9 131.3 L779.0 129.9 L777.3 128.4 L775.8 126.9 L774.7 125.4 L773.8 123.9 L773.2 122.4" fill="none" stroke="#f3ef78" stroke-width="1.0" opacity="0.8"/>
<g clip-path="url(#cp4)">
<line x1="768.0" y1="116.7" x2="888.0" y2="124.5" stroke="#f0ec58" stroke-width="2.6" opacity="0.95"/>
<line x1="841.9" y1="97.7" x2="818.2" y2="145.6" stroke="#b2ac2c" stroke-width="2.4" opacity="1.00"/>
<line x1="840.4" y1="97.0" x2="816.7" y2="144.9" stroke="#f8f6cc" stroke-width="1.0" opacity="1.00"/>
</g>
<path d="M908.1 7.0 L908.7 6.7 L909.5 6.3 L910.4 5.9 L911.4 5.5 L912.5 5.0 L913.7 4.6 L915.0 4.3 L916.3 4.0 L917.8 3.7 L919.6 3.4 L921.5 3.2 L923.4 3.0 L925.4 2.9 L927.4 2.8 L929.3 2.8 L931.1 3.0 L932.7 3.4 L934.4 4.0 L936.0 4.6 L937.5 5.3 L939.1 6.1 L940.5 7.0 L942.0 7.8 L943.3 8.7 L944.7 9.6 L946.0 10.7 L947.3 11.8 L948.5 12.9 L949.7 14.1 L950.8 15.2 L951.8 16.2 L952.6 17.2 L953.3 17.9 L953.9 18.6 L954.3 19.3 L954.7 20.0 L955.1 20.6 L955.3 21.1 L955.6 21.7 L955.9 22.1 L958.1 20.9 L958.0 20.5 L957.8 20.1 L957.6 19.4 L957.3 18.7 L956.9 17.9 L956.4 17.0 L955.8 16.0 L955.0 15.0 L954.1 14.1 L953.0 13.0 L951.9 11.9 L950.6 10.7 L949.2 9.5 L947.8 8.3 L946.4 7.2 L944.9 6.3 L943.3 5.4 L941.8 4.7 L940.1 3.9 L938.4 3.2 L936.7 2.6 L934.9 2.1 L933.2 1.7 L931.3 1.4 L929.5 1.1 L927.5 0.9 L925.4 0.8 L923.3 0.8 L921.3 0.9 L919.3 1.0 L917.5 1.1 L915.9 1.2 L914.4 1.4 L912.9 1.8 L911.5 2.2 L910.3 2.6 L909.2 3.0 L908.3 3.3 L907.5 3.6 L906.9 3.8 Z" fill="#2a97d6"/>
<path d="M925.4 2.9 L927.4 2.8 L929.3 2.8 L931.1 3.0 L932.7 3.4 L934.4 4.0 L936.0 4.6 L936.7 2.6 L934.9 2.1 L933.2 1.7 L931.3 1.4 L929.5 1.1 L927.5 0.9 L925.4 0.8 Z" fill="#2368b8"/>
<path d="M947.2 24.0 L948.2 24.0 L949.4 24.1 L950.9 24.2 L952.5 24.3 L954.2 24.5 L955.8 24.8 L957.4 25.1 L958.9 25.5 L960.2 26.2 L961.6 27.0 L963.0 27.8 L964.3 28.7 L965.6 29.7 L966.8 30.8 L968.0 31.9 L969.1 33.1 L970.1 34.5 L971.2 35.9 L972.2 37.5 L973.1 39.1 L974.0 40.8 L974.7 42.5 L975.4 44.1 L975.9 45.7 L976.4 47.2 L976.8 48.9 L977.0 50.7 L977.2 52.5 L977.3 54.2 L977.4 55.8 L977.5 57.1 L977.6 58.1 L979.6 58.1 L979.6 57.1 L979.7 55.8 L979.8 54.2 L979.8 52.4 L979.8 50.5 L979.7 48.5 L979.5 46.6 L979.1 44.7 L978.4 43.0 L977.6 41.2 L976.6 39.4 L975.6 37.7 L974.5 36.0 L973.4 34.4 L972.2 32.8 L970.9 31.5 L969.7 30.2 L968.3 29.0 L966.9 28.0 L965.4 27.0 L964.0 26.1 L962.5 25.4 L961.0 24.7 L959.5 24.1 L958.0 23.4 L956.3 22.9 L954.5 22.5 L952.8 22.2 L951.1 21.9 L949.7 21.6 L948.5 21.4 L947.6 21.2 Z" fill="#2a97d6"/>
<path d="M954.2 24.5 L955.8 24.8 L957.4 25.1 L958.9 25.5 L960.2 26.2 L961.6 27.0 L963.0 27.8 L964.0 26.1 L962.5 25.4 L961.0 24.7 L959.5 24.1 L958.0 23.4 L956.3 22.9 L954.5 22.5 Z" fill="#2368b8"/>
<path d="M958.3 28.1 L958.5 29.3 L958.8 30.8 L959.1 32.6 L959.4 34.5 L959.7 36.6 L960.0 38.8 L960.1 41.0 L960.2 43.1 L960.1 45.3 L960.0 47.6 L959.8 49.9 L959.5 52.3 L959.2 54.8 L958.8 57.2 L958.3 59.7 L957.8 62.1 L957.3 64.5 L956.7 67.0 L956.1 69.5 L955.4 72.0 L954.6 74.5 L953.7 76.9 L952.8 79.2 L951.9 81.4 L950.6 83.5 L949.1 85.6 L947.5 87.7 L945.9 89.8 L944.3 91.7 L942.8 93.4 L941.6 94.8 L940.6 95.9 L943.4 97.9 L944.1 96.7 L945.2 95.2 L946.5 93.4 L948.0 91.4 L949.5 89.1 L951.0 86.8 L952.4 84.5 L953.5 82.2 L954.6 80.0 L955.7 77.6 L956.7 75.2 L957.6 72.7 L958.5 70.2 L959.3 67.7 L960.0 65.2 L960.6 62.7 L961.1 60.2 L961.6 57.7 L961.9 55.2 L962.2 52.6 L962.4 50.1 L962.6 47.7 L962.6 45.3 L962.6 43.1 L962.5 40.8 L962.2 38.5 L961.9 36.3 L961.5 34.2 L961.0 32.2 L960.6 30.4 L960.3 29.0 L960.1 27.9 Z" fill="#2a97d6"/>
<path d="M958.3 28.1 L958.5 29.3 L958.8 30.8 L959.1 32.6 L961.0 32.2 L960.6 30.4 L960.3 29.0 L960.1 27.9 Z" fill="#2368b8"/>
<path d="M975.6 67.4 L975.0 68.5 L974.3 69.8 L973.6 71.4 L972.7 73.2 L971.7 75.1 L970.7 77.1 L969.6 79.1 L968.5 81.0 L967.5 83.0 L966.4 85.2 L965.2 87.4 L963.9 89.7 L962.6 91.9 L961.2 94.2 L959.9 96.4 L958.5 98.5 L956.9 100.4 L955.3 102.4 L953.7 104.3 L952.0 106.2 L950.3 108.0 L948.6 109.8 L946.9 111.5 L945.3 113.1 L943.7 114.7 L942.1 116.2 L940.5 117.7 L938.9 119.1 L937.4 120.4 L935.8 121.6 L934.2 122.7 L932.7 123.7 L931.2 124.6 L929.6 125.4 L928.0 126.1 L926.4 126.7 L924.8 127.3 L923.3 127.7 L921.8 128.1 L920.3 128.4 L918.9 128.5 L917.6 128.5 L916.3 128.4 L915.0 128.3 L913.8 128.0 L912.6 127.7 L911.3 127.4 L910.0 127.0 L908.8 126.5 L907.5 125.9 L906.2 125.3 L905.0 124.6 L903.7 123.8 L902.4 123.0 L901.1 122.2 L899.8 121.3 L898.5 120.4 L897.1 119.5 L895.7 118.5 L894.3 117.5 L892.9 116.4 L891.5 115.4 L890.1 114.3 L888.9 113.3 L887.7 112.2 L886.7 111.2 L885.7 110.1 L884.7 109.0 L883.6 107.9 L882.5 106.9 L881.3 105.8 L880.0 104.8 L878.6 103.8 L877.1 102.7 L875.4 101.6 L873.7 100.5 L872.0 99.6 L870.3 98.7 L868.6 98.0 L866.9 97.5 L865.1 97.3 L863.3 97.4 L861.6 97.8 L859.9 98.2 L858.5 98.7 L857.2 99.1 L856.1 99.4 L855.4 99.7 L856.2 102.7 L857.1 102.5 L858.2 102.1 L859.5 101.7 L860.8 101.2 L862.3 100.8 L863.7 100.5 L865.1 100.4 L866.3 100.5 L867.7 100.8 L869.3 101.2 L870.9 101.9 L872.6 102.6 L874.3 103.5 L876.0 104.4 L877.6 105.3 L879.0 106.2 L880.2 107.1 L881.3 108.2 L882.3 109.2 L883.2 110.3 L884.1 111.5 L885.1 112.6 L886.2 113.8 L887.3 114.9 L888.5 116.1 L889.8 117.3 L891.1 118.5 L892.5 119.7 L893.8 120.9 L895.2 122.0 L896.6 123.1 L898.0 124.1 L899.4 124.9 L900.8 125.7 L902.2 126.5 L903.7 127.2 L905.1 127.8 L906.5 128.3 L907.9 128.8 L909.4 129.2 L910.7 129.6 L912.1 129.9 L913.4 130.1 L914.8 130.2 L916.2 130.3 L917.6 130.3 L919.0 130.2 L920.5 130.0 L922.1 129.8 L923.7 129.6 L925.4 129.3 L927.1 128.8 L928.8 128.3 L930.6 127.7 L932.4 127.0 L934.1 126.1 L935.8 125.1 L937.5 123.9 L939.1 122.6 L940.8 121.3 L942.4 119.8 L944.1 118.3 L945.7 116.7 L947.3 115.1 L948.9 113.4 L950.5 111.6 L952.2 109.7 L953.8 107.7 L955.4 105.7 L956.9 103.7 L958.5 101.6 L959.9 99.5 L961.5 97.5 L963.1 95.4 L964.6 93.2 L966.1 91.0 L967.6 88.8 L968.9 86.7 L970.3 84.6 L971.5 82.6 L972.5 80.5 L973.4 78.4 L974.3 76.3 L975.1 74.2 L975.8 72.4 L976.4 70.7 L976.9 69.3 L977.2 68.2 Z" fill="#2a97d6"/>
<path d="M924.8 127.3 L923.3 127.7 L921.8 128.1 L920.3 128.4 L918.9 128.5 L917.6 128.5 L916.3 128.4 L916.2 130.3 L917.6 130.3 L919.0 130.2 L920.5 130.0 L922.1 129.8 L923.7 129.6 L925.4 129.3 Z" fill="#2368b8"/>
<path d="M883.6 107.9 L882.5 106.9 L881.3 105.8 L880.0 104.8 L878.6 103.8 L877.1 102.7 L875.4 101.6 L874.3 103.5 L876.0 104.4 L877.6 105.3 L879.0 106.2 L880.2 107.1 L881.3 108.2 L882.3 109.2 Z" fill="#2368b8"/>
<path d="M850.0 66.9 L850.1 67.8 L850.1 69.1 L850.0 70.7 L850.1 72.5 L850.1 74.4 L850.3 76.4 L850.6 78.3 L851.1 80.2 L851.8 81.9 L852.7 83.7 L853.7 85.4 L854.8 87.1 L856.0 88.8 L857.1 90.3 L858.3 91.8 L859.4 93.1 L860.4 94.4 L861.4 95.5 L862.3 96.6 L863.3 97.6 L864.4 98.5 L865.6 99.4 L866.9 100.3 L868.3 101.1 L869.9 101.9 L871.7 102.6 L873.5 103.2 L875.4 103.8 L877.4 104.4 L879.4 105.0 L881.4 105.5 L883.4 106.1 L885.5 106.4 L887.6 106.8 L889.7 107.2 L891.9 107.5 L894.2 107.8 L896.4 108.1 L898.7 108.4 L901.0 108.6 L903.3 108.9 L905.7 109.3 L908.2 109.6 L910.7 109.9 L913.2 110.1 L915.7 110.3 L918.1 110.3 L920.6 110.1 L922.9 109.8 L925.2 109.4 L927.6 108.9 L929.8 108.3 L932.1 107.5 L934.3 106.7 L936.4 105.7 L938.4 104.5 L940.3 103.2 L942.2 101.7 L944.0 100.0 L945.6 98.3 L947.2 96.5 L948.7 94.6 L950.1 92.8 L951.4 90.9 L952.6 89.0 L953.8 86.9 L954.9 84.7 L955.8 82.5 L956.7 80.5 L957.4 78.6 L958.1 77.1 L958.6 76.0 L955.4 74.8 L955.1 76.0 L954.6 77.7 L954.0 79.5 L953.4 81.6 L952.6 83.8 L951.8 86.0 L950.9 88.0 L949.8 89.9 L948.6 91.6 L947.1 93.3 L945.6 95.1 L944.0 96.7 L942.3 98.3 L940.6 99.8 L938.8 101.1 L937.0 102.3 L935.1 103.3 L933.2 104.2 L931.2 104.9 L929.1 105.6 L926.9 106.1 L924.7 106.6 L922.5 107.0 L920.2 107.3 L918.0 107.5 L915.7 107.6 L913.3 107.7 L910.8 107.6 L908.4 107.4 L905.9 107.2 L903.5 107.0 L901.2 106.8 L899.0 106.4 L896.8 106.0 L894.6 105.5 L892.4 105.0 L890.3 104.5 L888.2 103.9 L886.2 103.3 L884.2 102.7 L882.1 102.4 L880.1 102.0 L878.1 101.6 L876.1 101.2 L874.2 100.7 L872.4 100.3 L870.8 99.7 L869.3 99.1 L867.9 98.5 L866.7 97.7 L865.6 97.0 L864.6 96.2 L863.7 95.3 L862.7 94.3 L861.8 93.3 L860.8 92.1 L859.8 90.7 L858.8 89.2 L857.9 87.5 L856.9 85.9 L856.0 84.1 L855.3 82.4 L854.6 80.8 L854.1 79.2 L853.7 77.7 L853.4 76.0 L853.2 74.2 L853.1 72.4 L853.1 70.7 L853.0 69.1 L853.0 67.8 L853.0 66.7 Z" fill="#2a97d6"/>
<path d="M856.0 88.8 L857.1 90.3 L858.3 91.8 L859.4 93.1 L860.4 94.4 L861.4 95.5 L862.3 96.6 L863.7 95.3 L862.7 94.3 L861.8 93.3 L860.8 92.1 L859.8 90.7 L858.8 89.2 L857.9 87.5 Z" fill="#2368b8"/>
<path d="M838.6 64.6 C839.9 63.7 843.5 61.2 846.1 59.2 C848.7 57.2 852.8 53.9 854.1 52.8" fill="none" stroke="#2a97d6" stroke-width="2.2" stroke-linecap="round" stroke-linejoin="round"/>
<path d="M772.8 116.7 L772.8 115.8 L772.8 114.6 L772.7 113.1 L772.8 111.6 L772.8 110.0 L772.9 108.5 L773.1 107.1 L773.4 106.1 L773.8 105.3 L774.2 104.6 L774.7 103.9 L775.3 103.4 L775.9 103.0 L776.6 102.6 L777.4 102.3 L778.2 102.0 L779.2 101.9 L780.2 101.9 L781.4 102.0 L782.7 102.2 L784.1 102.4 L785.5 102.6 L787.1 102.9 L788.7 103.1 L790.5 103.1 L792.5 103.3 L794.7 103.4 L796.9 103.5 L799.0 103.7 L800.9 103.8 L802.5 103.9 L803.7 104.0 L803.9 101.2 L802.7 101.1 L801.1 100.9 L799.2 100.8 L797.1 100.6 L794.9 100.4 L792.7 100.2 L790.7 100.1 L788.9 99.9 L787.3 99.9 L785.8 99.8 L784.3 99.8 L782.9 99.7 L781.5 99.7 L780.2 99.7 L778.9 99.9 L777.8 100.2 L776.7 100.5 L775.8 101.0 L774.9 101.5 L774.1 102.1 L773.4 102.8 L772.8 103.6 L772.3 104.5 L771.8 105.5 L771.4 106.7 L771.1 108.2 L770.8 109.8 L770.7 111.4 L770.5 113.0 L770.4 114.5 L770.3 115.7 L770.2 116.5 Z" fill="#2a97d6"/>
<path d="M772.8 110.0 L772.9 108.5 L773.1 107.1 L773.4 106.1 L773.8 105.3 L774.2 104.6 L774.7 103.9 L773.4 102.8 L772.8 103.6 L772.3 104.5 L771.8 105.5 L771.4 106.7 L771.1 108.2 L770.8 109.8 Z" fill="#2368b8"/>
<path d="M855.7 102.3 L856.5 102.2 L857.6 102.0 L858.9 101.7 L860.3 101.5 L861.8 101.2 L863.3 101.0 L864.9 100.9 L866.3 100.9 L867.7 101.0 L869.2 101.2 L870.6 101.4 L872.1 101.7 L873.7 102.0 L875.4 102.4 L877.1 102.8 L878.9 103.2 L880.9 103.4 L883.0 103.7 L885.2 104.0 L887.5 104.4 L889.8 104.7 L892.0 105.1 L894.2 105.4 L896.2 105.8 L898.2 106.2 L900.1 106.6 L902.1 107.1 L904.0 107.6 L905.8 108.0 L907.4 108.4 L908.7 108.7 L909.8 109.0 L910.2 107.0 L909.2 106.8 L907.9 106.5 L906.3 106.1 L904.5 105.6 L902.6 105.2 L900.6 104.7 L898.6 104.3 L896.6 103.8 L894.6 103.3 L892.5 102.8 L890.3 102.3 L888.0 101.7 L885.8 101.2 L883.6 100.7 L881.4 100.3 L879.5 99.8 L877.6 99.6 L875.9 99.4 L874.2 99.2 L872.6 99.0 L871.0 98.8 L869.4 98.7 L867.8 98.7 L866.3 98.7 L864.7 98.8 L863.1 99.0 L861.5 99.3 L859.9 99.6 L858.5 99.9 L857.2 100.2 L856.1 100.5 L855.3 100.7 Z" fill="#2a97d6"/>
<path d="M855.7 102.3 L856.5 102.2 L857.6 102.0 L858.9 101.7 L858.5 99.9 L857.2 100.2 L856.1 100.5 L855.3 100.7 Z" fill="#2368b8"/>
<path d="M770.0 118.0 L769.9 119.0 L769.7 120.4 L769.5 122.1 L769.3 124.0 L769.2 126.0 L769.0 128.0 L768.9 129.9 L768.8 131.7 L768.9 133.4 L768.9 135.1 L769.0 136.9 L769.1 138.7 L769.2 140.4 L769.5 142.0 L769.8 143.6 L770.3 145.0 L770.9 146.3 L771.5 147.4 L772.3 148.3 L773.1 149.1 L774.1 149.9 L775.1 150.6 L776.3 151.2 L777.6 151.9 L779.1 152.6 L780.8 153.3 L782.6 154.0 L784.6 154.7 L786.6 155.3 L788.7 155.8 L790.8 156.3 L792.9 156.7 L795.1 157.0 L797.3 157.1 L799.5 157.2 L801.7 157.2 L803.9 157.2 L806.1 157.2 L808.2 157.2 L810.2 157.3 L812.2 157.3 L814.1 157.4 L816.0 157.4 L817.9 157.5 L819.7 157.6 L821.5 157.8 L823.4 158.0 L825.2 158.3 L827.0 158.8 L828.9 159.5 L830.8 160.2 L832.6 161.0 L834.5 161.8 L836.3 162.7 L838.1 163.5 L839.9 164.3 L841.6 164.9 L843.2 165.7 L844.8 166.4 L846.4 167.1 L848.0 167.8 L849.6 168.5 L851.3 169.2 L852.9 169.8 L854.6 170.2 L856.2 170.7 L857.9 171.1 L859.5 171.5 L861.2 171.9 L862.9 172.1 L864.6 172.3 L866.3 172.4 L867.9 172.4 L869.7 172.4 L871.4 172.3 L873.1 172.1 L874.8 171.8 L876.5 171.5 L878.1 171.0 L879.6 170.4 L881.2 169.8 L882.7 169.0 L884.2 168.1 L885.6 167.1 L886.9 166.1 L888.2 165.0 L889.3 163.9 L890.3 162.8 L891.0 161.6 L891.6 160.3 L892.1 159.1 L892.4 157.8 L892.6 156.5 L892.7 155.3 L892.6 154.0 L892.4 152.8 L891.9 151.6 L891.2 150.5 L890.3 149.5 L889.4 148.6 L888.4 147.8 L887.6 147.1 L886.9 146.5 L886.4 146.1 L885.0 147.5 L885.4 148.0 L886.1 148.7 L886.8 149.5 L887.6 150.3 L888.3 151.2 L889.0 152.1 L889.4 152.9 L889.6 153.6 L889.6 154.3 L889.6 155.2 L889.5 156.1 L889.3 157.1 L889.0 158.0 L888.6 159.0 L888.1 159.9 L887.5 160.8 L886.8 161.8 L886.0 162.8 L885.0 163.9 L883.8 164.9 L882.6 165.9 L881.4 166.8 L880.1 167.7 L878.8 168.4 L877.4 168.9 L875.9 169.4 L874.4 169.8 L872.8 170.1 L871.2 170.4 L869.5 170.6 L867.9 170.6 L866.3 170.6 L864.8 170.4 L863.3 170.1 L861.7 169.7 L860.2 169.2 L858.6 168.7 L857.1 168.1 L855.5 167.5 L853.9 166.8 L852.3 166.3 L850.8 165.7 L849.2 165.0 L847.6 164.4 L846.0 163.7 L844.4 162.9 L842.7 162.2 L840.9 161.5 L839.1 160.9 L837.3 160.3 L835.4 159.6 L833.4 158.9 L831.5 158.3 L829.5 157.7 L827.5 157.1 L825.6 156.7 L823.7 156.2 L821.8 155.8 L820.0 155.5 L818.1 155.2 L816.2 154.9 L814.3 154.7 L812.4 154.5 L810.4 154.3 L808.3 154.2 L806.1 154.2 L803.9 154.3 L801.7 154.3 L799.5 154.4 L797.3 154.4 L795.3 154.3 L793.3 154.1 L791.3 153.8 L789.2 153.5 L787.2 153.1 L785.2 152.6 L783.3 152.1 L781.5 151.5 L779.8 150.9 L778.4 150.3 L777.2 149.7 L776.2 149.0 L775.3 148.3 L774.6 147.6 L774.0 146.9 L773.5 146.1 L773.1 145.2 L772.7 144.2 L772.4 143.0 L772.2 141.6 L772.1 140.1 L772.0 138.5 L772.1 136.9 L772.1 135.1 L772.1 133.4 L772.2 131.7 L772.1 129.9 L772.0 128.1 L772.0 126.1 L772.0 124.1 L772.0 122.2 L772.0 120.5 L772.0 119.1 L772.0 118.0 Z" fill="#2a97d6"/>
<path d="M774.1 149.9 L775.1 150.6 L776.3 151.2 L777.6 151.9 L779.1 152.6 L780.8 153.3 L782.6 154.0 L783.3 152.1 L781.5 151.5 L779.8 150.9 L778.4 150.3 L777.2 149.7 L776.2 149.0 L775.3 148.3 Z" fill="#2368b8"/>
<path d="M819.7 157.6 L821.5 157.8 L823.4 158.0 L825.2 158.3 L827.0 158.8 L828.9 159.5 L830.8 160.2 L831.5 158.3 L829.5 157.7 L827.5 157.1 L825.6 156.7 L823.7 156.2 L821.8 155.8 L820.0 155.5 Z" fill="#2368b8"/>
<path d="M861.2 171.9 L862.9 172.1 L864.6 172.3 L866.3 172.4 L867.9 172.4 L869.7 172.4 L871.4 172.3 L871.2 170.4 L869.5 170.6 L867.9 170.6 L866.3 170.6 L864.8 170.4 L863.3 170.1 L861.7 169.7 Z" fill="#2368b8"/>
<path d="M770.2 150.2 L769.5 151.3 L768.6 152.7 L767.5 154.3 L766.3 156.2 L765.0 158.1 L763.8 160.0 L762.6 161.7 L761.7 163.3 L761.0 164.6 L760.3 165.8 L759.6 167.0 L759.0 168.1 L758.4 169.3 L758.0 170.4 L757.8 171.5 L757.7 172.6 L757.8 173.7 L758.0 174.7 L758.4 175.7 L759.0 176.6 L759.6 177.5 L760.4 178.3 L761.4 179.1 L762.5 179.7 L763.8 180.4 L765.2 181.0 L766.9 181.5 L768.6 182.0 L770.3 182.4 L772.1 182.8 L773.8 183.3 L775.4 183.8 L777.0 184.3 L778.5 184.7 L780.1 185.2 L781.7 185.8 L783.3 186.3 L784.9 186.8 L786.6 187.4 L788.3 188.0 L790.1 188.5 L792.0 189.1 L794.0 189.7 L795.9 190.3 L797.9 190.9 L799.8 191.5 L801.7 192.1 L803.5 192.7 L805.2 193.5 L806.8 194.2 L808.4 194.9 L810.0 195.7 L811.6 196.4 L813.1 197.1 L814.6 197.9 L816.2 198.7 L817.9 199.5 L819.7 200.4 L821.6 201.3 L823.4 202.3 L825.1 203.2 L826.7 204.0 L828.0 204.7 L829.0 205.2 L830.4 202.4 L829.4 201.9 L828.1 201.3 L826.5 200.5 L824.7 199.6 L822.9 198.7 L821.0 197.8 L819.1 196.9 L817.4 196.1 L815.7 195.4 L814.1 194.8 L812.5 194.2 L810.9 193.6 L809.2 193.0 L807.5 192.4 L805.8 191.8 L804.1 191.3 L802.3 190.5 L800.5 189.7 L798.6 188.9 L796.7 188.2 L794.8 187.4 L792.9 186.6 L791.1 185.9 L789.3 185.2 L787.6 184.6 L785.9 184.0 L784.3 183.4 L782.7 182.9 L781.1 182.3 L779.5 181.8 L777.9 181.3 L776.2 180.8 L774.5 180.4 L772.6 180.1 L770.8 179.9 L769.0 179.6 L767.4 179.3 L765.8 179.0 L764.4 178.7 L763.3 178.3 L762.4 177.7 L761.6 177.0 L760.9 176.4 L760.4 175.7 L760.0 174.9 L759.7 174.2 L759.5 173.4 L759.5 172.6 L759.6 171.8 L759.9 171.0 L760.4 170.2 L760.9 169.3 L761.6 168.3 L762.4 167.2 L763.2 166.0 L764.1 164.7 L765.0 163.3 L766.1 161.6 L767.4 159.7 L768.7 157.8 L769.9 156.0 L771.1 154.4 L772.1 153.0 L772.8 152.0 Z" fill="#2a97d6"/>
<path d="M759.6 177.5 L760.4 178.3 L761.4 179.1 L762.5 179.7 L763.8 180.4 L765.2 181.0 L766.9 181.5 L767.4 179.3 L765.8 179.0 L764.4 178.7 L763.3 178.3 L762.4 177.7 L761.6 177.0 L760.9 176.4 Z" fill="#2368b8"/>
<path d="M797.9 190.9 L799.8 191.5 L801.7 192.1 L803.5 192.7 L805.2 193.5 L806.8 194.2 L808.4 194.9 L809.2 193.0 L807.5 192.4 L805.8 191.8 L804.1 191.3 L802.3 190.5 L800.5 189.7 L798.6 188.9 Z" fill="#2368b8"/>
<path d="M828.4 203.7 L828.0 204.4 L827.5 205.3 L826.8 206.4 L826.0 207.7 L825.3 209.0 L824.6 210.3 L823.9 211.6 L823.4 212.8 L823.1 213.8 L822.8 214.9 L822.5 215.9 L822.3 216.9 L822.2 217.9 L822.2 218.9 L822.3 220.0 L822.6 220.9 L823.0 221.9 L823.5 223.0 L824.2 224.0 L824.9 224.9 L825.7 225.8 L826.5 226.7 L827.4 227.4 L828.3 228.0 L829.3 228.6 L830.5 228.9 L831.6 229.2 L832.8 229.3 L833.9 229.4 L834.9 229.5 L835.6 229.6 L836.2 229.7 L836.4 226.9 L835.8 226.9 L834.9 226.9 L834.0 227.0 L833.0 227.0 L831.9 226.9 L830.9 226.8 L830.0 226.7 L829.3 226.4 L828.5 225.9 L827.8 225.3 L827.0 224.6 L826.2 223.8 L825.6 222.9 L825.0 222.1 L824.5 221.2 L824.2 220.5 L824.0 219.7 L824.0 218.9 L824.1 218.1 L824.2 217.3 L824.5 216.4 L824.8 215.5 L825.2 214.6 L825.6 213.6 L826.1 212.7 L826.8 211.6 L827.5 210.4 L828.4 209.2 L829.2 208.1 L830.0 207.0 L830.7 206.2 L831.2 205.5 Z" fill="#2a97d6"/>
<path d="M822.2 217.9 L822.2 218.9 L822.3 220.0 L822.6 220.9 L823.0 221.9 L823.5 223.0 L824.2 224.0 L825.6 222.9 L825.0 222.1 L824.5 221.2 L824.2 220.5 L824.0 219.7 L824.0 218.9 L824.1 218.1 Z" fill="#2368b8"/>
<path d="M832.8 207.9 L833.8 208.1 L835.0 208.5 L836.5 208.8 L838.2 209.2 L840.0 209.7 L842.0 210.1 L843.9 210.5 L845.9 210.8 L847.8 211.2 L849.9 211.6 L852.0 212.0 L854.2 212.3 L856.4 212.6 L858.6 213.0 L860.8 213.3 L862.9 213.8 L865.1 214.0 L867.2 214.3 L869.4 214.7 L871.5 215.0 L873.7 215.4 L875.9 215.7 L878.0 216.1 L880.2 216.4 L882.4 216.9 L884.6 217.3 L886.8 217.8 L889.0 218.3 L891.2 218.7 L893.4 219.1 L895.5 219.5 L897.6 219.7 L899.6 220.0 L901.5 220.2 L903.4 220.4 L905.3 220.5 L907.2 220.6 L909.1 220.6 L911.0 220.5 L913.0 220.3 L914.9 219.8 L916.9 219.2 L918.9 218.5 L920.8 217.8 L922.7 217.0 L924.6 216.1 L926.5 215.1 L928.3 214.0 L930.1 212.9 L931.9 211.7 L933.8 210.4 L935.6 209.0 L937.3 207.5 L938.9 206.0 L940.3 204.6 L941.6 203.2 L942.8 201.8 L943.9 200.4 L944.8 199.0 L945.6 197.6 L946.3 196.1 L946.9 194.7 L947.4 193.4 L947.8 192.0 L947.9 190.7 L948.0 189.3 L947.9 188.0 L947.7 186.7 L947.4 185.5 L947.1 184.4 L946.7 183.4 L946.3 182.5 L945.7 181.6 L945.0 180.9 L944.2 180.3 L943.4 179.8 L942.7 179.5 L942.1 179.2 L941.6 179.0 L941.3 178.9 L940.1 180.7 L940.5 181.0 L941.0 181.3 L941.6 181.6 L942.1 182.0 L942.7 182.4 L943.1 182.8 L943.5 183.2 L943.7 183.7 L944.0 184.4 L944.2 185.3 L944.5 186.2 L944.6 187.2 L944.7 188.2 L944.7 189.3 L944.6 190.3 L944.4 191.4 L944.2 192.5 L943.9 193.7 L943.5 195.0 L943.0 196.3 L942.3 197.6 L941.6 198.9 L940.7 200.3 L939.8 201.6 L938.6 203.0 L937.2 204.4 L935.8 205.9 L934.2 207.3 L932.5 208.7 L930.8 210.1 L929.0 211.3 L927.3 212.4 L925.6 213.3 L923.7 214.0 L921.8 214.7 L919.9 215.3 L918.0 215.9 L916.1 216.3 L914.3 216.7 L912.4 216.9 L910.6 217.3 L908.9 217.5 L907.1 217.7 L905.4 217.7 L903.6 217.7 L901.7 217.7 L899.8 217.6 L897.8 217.5 L895.8 217.2 L893.7 216.9 L891.6 216.6 L889.4 216.1 L887.2 215.7 L885.0 215.2 L882.8 214.8 L880.6 214.4 L878.5 213.9 L876.3 213.4 L874.2 212.9 L872.1 212.3 L869.9 211.8 L867.8 211.4 L865.6 210.9 L863.5 210.4 L861.2 210.2 L859.0 210.1 L856.7 209.9 L854.5 209.8 L852.3 209.7 L850.1 209.5 L848.1 209.4 L846.1 209.2 L844.3 208.8 L842.4 208.3 L840.5 207.8 L838.7 207.3 L837.1 206.8 L835.6 206.3 L834.4 206.0 L833.4 205.7 Z" fill="#2a97d6"/>
<path d="M840.0 209.7 L842.0 210.1 L843.9 210.5 L845.9 210.8 L847.8 211.2 L849.9 211.6 L852.0 212.0 L852.3 209.7 L850.1 209.5 L848.1 209.4 L846.1 209.2 L844.3 208.8 L842.4 208.3 L840.5 207.8 Z" fill="#2368b8"/>
<path d="M796.9 243.0 L797.8 242.5 L798.9 241.9 L800.2 241.1 L801.6 240.3 L803.1 239.4 L804.7 238.5 L806.3 237.7 L807.8 236.9 L809.3 236.2 L810.9 235.5 L812.6 234.8 L814.3 234.2 L816.0 233.5 L817.6 232.9 L819.2 232.4 L820.6 232.0 L821.9 231.6 L823.3 231.2 L824.6 230.9 L826.0 230.6 L827.2 230.4 L828.3 230.2 L829.2 230.0 L830.0 229.9 L829.6 227.5 L828.9 227.6 L828.0 227.6 L826.8 227.7 L825.6 227.8 L824.2 227.9 L822.7 228.2 L821.1 228.4 L819.6 228.8 L818.1 229.4 L816.5 230.0 L814.8 230.7 L813.1 231.4 L811.4 232.2 L809.8 233.0 L808.2 233.9 L806.6 234.7 L805.1 235.5 L803.5 236.5 L802.0 237.5 L800.5 238.5 L799.1 239.5 L797.9 240.3 L796.8 241.1 L796.1 241.6 Z" fill="#2a97d6"/>
<path d="M796.9 243.0 L797.8 242.5 L798.9 241.9 L800.2 241.1 L799.1 239.5 L797.9 240.3 L796.8 241.1 L796.1 241.6 Z" fill="#2368b8"/>
<path d="M835.6 230.3 L836.3 230.9 L837.2 231.7 L838.3 232.6 L839.5 233.7 L840.8 234.8 L842.2 236.0 L843.6 237.2 L845.0 238.3 L846.5 239.2 L848.0 240.3 L849.7 241.3 L851.3 242.4 L853.0 243.5 L854.8 244.5 L856.6 245.6 L858.4 246.5 L860.2 247.4 L862.1 248.3 L864.0 249.2 L865.9 250.0 L867.9 250.8 L869.8 251.5 L871.7 252.2 L873.7 252.9 L875.5 253.7 L877.4 254.4 L879.3 255.2 L881.2 255.8 L883.1 256.5 L885.0 257.1 L886.9 257.6 L888.9 258.0 L890.8 258.2 L892.7 258.3 L894.7 258.3 L896.6 258.3 L898.5 258.2 L900.4 258.0 L902.4 257.7 L904.3 257.3 L906.2 256.9 L908.2 256.4 L910.2 255.9 L912.1 255.2 L914.1 254.4 L916.0 253.6 L917.9 252.7 L919.7 251.8 L921.5 250.9 L923.3 249.9 L925.0 248.8 L926.7 247.6 L928.4 246.4 L930.1 245.1 L931.7 243.8 L933.3 242.4 L934.7 240.8 L936.2 239.2 L937.6 237.4 L939.0 235.7 L940.3 233.9 L941.5 232.1 L942.6 230.4 L943.7 228.8 L944.7 227.3 L945.6 225.9 L946.4 224.5 L947.2 223.1 L947.9 221.7 L948.4 220.3 L948.9 219.0 L949.3 217.7 L949.5 216.4 L949.6 215.0 L949.6 213.7 L949.5 212.4 L949.3 211.3 L949.1 210.2 L948.8 209.2 L948.5 208.3 L948.1 207.5 L947.5 206.7 L946.8 206.2 L946.2 205.8 L945.6 205.6 L945.1 205.4 L944.9 205.3 L944.7 205.2 L943.3 208.2 L943.7 208.3 L944.1 208.5 L944.5 208.6 L944.9 208.7 L945.2 208.8 L945.4 209.0 L945.6 209.2 L945.9 209.5 L946.1 210.1 L946.5 210.9 L946.8 211.9 L947.1 212.9 L947.3 214.0 L947.4 215.1 L947.5 216.2 L947.3 217.3 L947.0 218.4 L946.6 219.7 L946.1 220.9 L945.5 222.2 L944.8 223.5 L944.0 224.9 L943.1 226.3 L942.1 227.8 L941.0 229.2 L939.7 230.8 L938.4 232.4 L937.0 234.0 L935.5 235.6 L934.0 237.1 L932.4 238.6 L930.9 240.0 L929.5 241.4 L928.1 242.8 L926.6 244.1 L925.1 245.4 L923.6 246.7 L922.0 247.9 L920.4 249.0 L918.7 250.0 L917.0 250.9 L915.2 251.7 L913.3 252.5 L911.4 253.2 L909.5 253.9 L907.6 254.4 L905.8 254.9 L903.9 255.3 L902.1 255.5 L900.2 255.6 L898.4 255.6 L896.6 255.5 L894.8 255.4 L893.0 255.2 L891.2 254.9 L889.3 254.6 L887.5 254.4 L885.7 254.1 L883.8 253.7 L881.9 253.3 L880.1 252.8 L878.2 252.2 L876.2 251.7 L874.3 251.1 L872.4 250.4 L870.5 249.6 L868.6 248.9 L866.7 248.0 L864.8 247.2 L863.0 246.3 L861.2 245.4 L859.4 244.5 L857.8 243.5 L856.1 242.4 L854.5 241.3 L852.9 240.1 L851.4 238.9 L849.8 237.8 L848.4 236.6 L847.0 235.5 L845.5 234.6 L844.1 233.6 L842.6 232.5 L841.2 231.5 L839.9 230.6 L838.7 229.8 L837.7 229.1 L837.0 228.5 Z" fill="#2a97d6"/>
<text transform="scale(0.940,1)" x="143.22 158.05 172.87 187.70 202.52 217.35 232.17 247.00 261.83 276.65 291.48 306.30 321.13 335.95 350.78 365.60 380.43 395.25 410.08 424.91 439.73 454.56 469.38 484.21 499.03 513.86 528.68 543.51 558.34 573.16 587.99 602.81 617.64 632.46 647.29 662.11 676.94 691.77 706.59 721.42 736.24 751.07 765.89 780.72 795.54 810.37 825.20 840.02 854.85 869.67 884.50 899.32 914.15 928.97 943.80 958.63 973.45 988.28 1003.10 1017.93 1032.75 1047.58 1062.40 1077.23 1092.05" y="357.6" font-size="24.00" fill="#2e4da0">TTTTTTTTTTTTTTTTTTTTTTTTTTTTTTTTTTTTTTTTTTTTTTTTTTTTTTTTTTTTTTTTT</text>
<text x="10.37" y="357.1" font-size="26.02" fill="#2e4da0" textLength="76.01" lengthAdjust="spacingAndGlyphs">65mer</text>
<text transform="scale(0.940,1)" x="276.74 291.54 306.35 321.16 335.97 350.78 365.59 380.40 395.20 410.01 424.82 439.63 454.44 469.25 484.05 498.86 513.67 528.48 543.29 558.10 572.91 587.71 602.52 617.33 632.14 646.95 661.76 676.57 691.37 706.18 720.99 735.80 750.61 765.42 780.23 795.03 809.84 824.65 839.46 854.27 869.08 883.88 898.69 913.50 928.31 943.12 957.93 972.74 987.54 1002.35 1017.16 1031.97 1046.78 1061.59 1076.40 1091.20" y="379.7" font-size="24.00" fill="#5b4a9e">TTTTTTTTTTTTTTTTTTTTTTTTTTTTTTTTTTTTTTTTTTTTTTTTTTTTTTTT</text>
<text x="10.88" y="379.2" font-size="26.02" fill="#5b4a9e" textLength="75.50" lengthAdjust="spacingAndGlyphs">56mer</text>
<text transform="scale(0.940,1)" x="292.40 307.20 322.01 336.82 351.63 366.44 381.25 396.05 410.86 425.67 440.48 455.29 470.10 484.91 499.71 514.52 529.33 544.14 558.95 573.76 588.57 603.37 618.18 632.99 647.80 662.61 677.42 692.23 707.03 721.84 736.65 751.46 766.27 781.08 795.88 810.69 825.50 840.31 855.12 869.93 884.74 899.54 914.35 929.16 943.97 958.78 973.59 988.40 1003.20 1018.01 1032.82 1047.63 1062.44 1077.25 1092.05" y="400.6" font-size="24.00" fill="#259243">TTTTTTTTTTTTTTTTTTTTTTTTTTTTTTTTTTTTTTTTTTTTTTTTTTTTTTT</text>
<text x="10.88" y="400.1" font-size="26.02" fill="#259243" textLength="75.50" lengthAdjust="spacingAndGlyphs">55mer</text>
<text transform="scale(0.940,1)" x="366.86 381.67 396.48 411.29 426.10 440.91 455.71 470.52 485.33 500.14 514.95 529.76 544.57 559.37 574.18 588.99 603.80 618.61 633.42 648.23 663.03 677.84 692.65 707.46 722.27 737.08 751.88 766.69 781.50 796.31 811.12 825.93 840.74 855.54 870.35 885.16 899.97 914.78 929.59 944.40 959.20 974.01 988.82 1003.63 1018.44 1033.25 1048.05 1062.86 1077.67 1092.48" y="422.9" font-size="24.00" fill="#7fc241">TTTTTTTTTTTTTTTTTTTTTTTTTTTTTTTTTTTTTTTTTTTTTTTTTT</text>
<text x="10.88" y="422.4" font-size="26.02" fill="#7fc241" textLength="75.50" lengthAdjust="spacingAndGlyphs">50mer</text>
<text transform="scale(0.940,1)" x="575.97 591.16 606.35 621.54 636.74 651.93 667.12 682.31 697.50 712.69 727.88 743.08 758.27 773.46 788.65 803.84 819.03 834.23 849.42 864.61 879.80 894.99 910.18 925.37 940.57 955.76 970.95 986.14 1001.33 1016.52 1031.71 1046.91 1062.10 1077.29 1092.48" y="445.2" font-size="24.00" fill="#dcd920">TTTTTTTTTTTTTTTTTTTTTTTTTTTTTTTTTTT</text>
<text x="10.48" y="444.7" font-size="26.02" fill="#dcd920" textLength="75.66" lengthAdjust="spacingAndGlyphs">35mer</text>
<text transform="scale(0.940,1)" x="650.65 665.84 681.03 696.23 711.42 726.61 741.80 756.99 772.18 787.37 802.57 817.76 832.95 848.14 863.33 878.52 893.71 908.91 924.10 939.29 954.48 969.67 984.86 1000.05 1015.25 1030.44 1045.63 1060.82 1076.01 1091.20" y="466.2" font-size="24.00" fill="#f7941d">TTTTTTTTTTTTTTTTTTTTTTTTTTTTTT</text>
<text x="10.48" y="465.7" font-size="26.02" fill="#f7941d" textLength="75.66" lengthAdjust="spacingAndGlyphs">30mer</text>
<text transform="scale(0.940,1)" x="725.76 740.95 756.14 771.33 786.52 801.71 816.91 832.10 847.29 862.48 877.67 892.86 908.05 923.25 938.44 953.63 968.82 984.01 999.20 1014.40 1029.59 1044.78 1059.97 1075.16 1090.35" y="491.2" font-size="24.00" fill="#ec1c24">TTTTTTTTTTTTTTTTTTTTTTTTT</text>
<text x="10.46" y="490.7" font-size="26.02" fill="#ec1c24" textLength="75.92" lengthAdjust="spacingAndGlyphs">25mer</text>
<text transform="scale(0.940,1)" x="892.95 907.21 921.46 935.72 949.97 964.23 978.48 992.74 1006.99 1021.25 1035.50 1049.76 1064.01 1078.27 1092.52" y="511.4" font-size="22.50" fill="#7a1315">TTTTTTTTTTTTTTT</text>
<text x="10.00" y="510.9" font-size="26.02" fill="#7a1315" textLength="76.24" lengthAdjust="spacingAndGlyphs">15mer</text>
<text transform="scale(0.940,1)" x="997.06 1015.25 1033.55 1052.06 1072.80 1091.52" y="532.9" font-size="22.50" fill="#000">TTTTTT</text>
<text x="10.69" y="532.5" font-size="26.02" fill="#000" textLength="61.70" lengthAdjust="spacingAndGlyphs">6mer</text>
<rect x="13" y="541.9" width="1025.5" height="18" fill="url(#g9)"/>
<circle cx="21.7" cy="550.9" r="8.6" fill="#f2ea1d"/>
<circle cx="99.2" cy="550.9" r="8.6" fill="#f2ea1d"/>
<circle cx="176.8" cy="550.9" r="8.6" fill="#f2ea1d"/>
<circle cx="254.3" cy="550.9" r="8.6" fill="#f2ea1d"/>
<circle cx="331.9" cy="550.9" r="8.6" fill="#f2ea1d"/>
<circle cx="409.4" cy="550.9" r="8.6" fill="#f2ea1d"/>
<circle cx="487.0" cy="550.9" r="8.6" fill="#f2ea1d"/>
<circle cx="564.6" cy="550.9" r="8.6" fill="#f2ea1d"/>
<circle cx="642.1" cy="550.9" r="8.6" fill="#f2ea1d"/>
<circle cx="719.6" cy="550.9" r="8.6" fill="#f2ea1d"/>
<circle cx="797.2" cy="550.9" r="8.6" fill="#f2ea1d"/>
<circle cx="874.8" cy="550.9" r="8.6" fill="#f2ea1d"/>
<circle cx="952.3" cy="550.9" r="8.6" fill="#f2ea1d"/>
<circle cx="1029.8" cy="550.9" r="8.6" fill="#f2ea1d"/>
<line x1="526.1" y1="541.4" x2="526.1" y2="560" stroke="#fff" stroke-width="2.2" stroke-dasharray="2.1 2.4"/>
<line x1="254.4" y1="483" x2="254.4" y2="542" stroke="#626366" stroke-width="2.3" stroke-dasharray="7.4 5.9"/>
<line x1="332.2" y1="483" x2="332.2" y2="542" stroke="#626366" stroke-width="2.3" stroke-dasharray="7.4 5.9"/>
<text x="258.38" y="501.6" font-size="21.13" fill="#000" textLength="71.25" lengthAdjust="spacingAndGlyphs">≈ 4 nm</text>
<text x="258.53" y="532.4" font-size="21.13" fill="#000" textLength="51.69" lengthAdjust="spacingAndGlyphs">= 5.7</text>
<text x="311.24" y="532.4" font-size="21.13" fill="#000" textLength="20.17" lengthAdjust="spacingAndGlyphs">nt</text>
<text x="-1.08" y="585.8" font-size="26.02" fill="#000" textLength="38.52" lengthAdjust="spacingAndGlyphs">6.5</text>
<text x="84.52" y="585.8" font-size="26.02" fill="#000" textLength="36.80" lengthAdjust="spacingAndGlyphs">5.5</text>
<text x="157.72" y="585.8" font-size="26.02" fill="#000" textLength="37.64" lengthAdjust="spacingAndGlyphs">4.5</text>
<text x="238.62" y="585.8" font-size="26.02" fill="#000" textLength="37.34" lengthAdjust="spacingAndGlyphs">3.5</text>
<text x="314.51" y="585.8" font-size="26.02" fill="#000" textLength="37.93" lengthAdjust="spacingAndGlyphs">2.5</text>
<text x="393.05" y="585.8" font-size="26.02" fill="#000" textLength="38.35" lengthAdjust="spacingAndGlyphs">1.5</text>
<text x="471.28" y="585.8" font-size="26.02" fill="#000" textLength="37.08" lengthAdjust="spacingAndGlyphs">0.5</text>
<text x="540.33" y="585.8" font-size="26.02" fill="#000" textLength="46.12" lengthAdjust="spacingAndGlyphs">-0.5</text>
<text x="616.36" y="585.8" font-size="26.02" fill="#000" textLength="45.51" lengthAdjust="spacingAndGlyphs">-1.5</text>
<text x="698.86" y="585.8" font-size="26.02" fill="#000" textLength="46.54" lengthAdjust="spacingAndGlyphs">-2.5</text>
<text x="777.28" y="585.8" font-size="26.02" fill="#000" textLength="45.43" lengthAdjust="spacingAndGlyphs">-3.5</text>
<text x="852.51" y="585.8" font-size="26.02" fill="#000" textLength="45.70" lengthAdjust="spacingAndGlyphs">-4.5</text>
<text x="927.96" y="585.8" font-size="26.02" fill="#000" textLength="45.51" lengthAdjust="spacingAndGlyphs">-5.5</text>
<text x="1003.71" y="585.8" font-size="26.02" fill="#000" textLength="44.63" lengthAdjust="spacingAndGlyphs">-6.5</text>
<text x="520.10" y="585.8" font-size="26.02" fill="#c1272d" textLength="14.27" lengthAdjust="spacingAndGlyphs">0</text>
<path d="M610.4 615.6 L572.0 596.4 M577.0 604.5 L572.0 596.4 L581.5 595.5" fill="none" stroke="#000" stroke-width="2.3" stroke-linejoin="miter" stroke-linecap="butt"/>
<path d="M610.4 615.6 L649.0 596.4 M639.5 595.5 L649.0 596.4 L644.0 604.5" fill="none" stroke="#000" stroke-width="2.3" stroke-linejoin="miter" stroke-linecap="butt"/>
<path d="M838.3 615.0 L800.5 596.4 M805.5 604.5 L800.5 596.4 L810.0 595.4" fill="none" stroke="#000" stroke-width="2.3" stroke-linejoin="miter" stroke-linecap="butt"/>
<path d="M838.3 615.0 L877.3 596.4 M867.9 595.3 L877.3 596.4 L872.2 604.4" fill="none" stroke="#000" stroke-width="2.3" stroke-linejoin="miter" stroke-linecap="butt"/>
<path d="M988.9 615.0 L949.6 596.4 M954.7 604.4 L949.6 596.4 L959.0 595.3" fill="none" stroke="#000" stroke-width="2.3" stroke-linejoin="miter" stroke-linecap="butt"/>
<path d="M988.9 615.0 L1027.9 596.4 M1018.5 595.3 L1027.9 596.4 L1022.8 604.4" fill="none" stroke="#000" stroke-width="2.3" stroke-linejoin="miter" stroke-linecap="butt"/>
<path d="M726.4 622.0 L726.4 593.5 M721.4 601.6 L726.4 593.5 L731.4 601.6" fill="none" stroke="#000" stroke-width="2.3" stroke-linejoin="miter" stroke-linecap="butt"/>
<text x="593.75" y="644.0" font-size="25.60" fill="#000" textLength="33.71" lengthAdjust="spacingAndGlyphs">H3</text>
<text x="707.92" y="644.0" font-size="25.60" fill="#000" textLength="32.97" lengthAdjust="spacingAndGlyphs">H4</text>
<text x="815.24" y="644.0" font-size="25.60" fill="#000" textLength="52.28" lengthAdjust="spacingAndGlyphs">H2B</text>
<text x="965.17" y="644.0" font-size="25.60" fill="#000" textLength="51.26" lengthAdjust="spacingAndGlyphs">H2A</text>
</svg>
</body></html>
